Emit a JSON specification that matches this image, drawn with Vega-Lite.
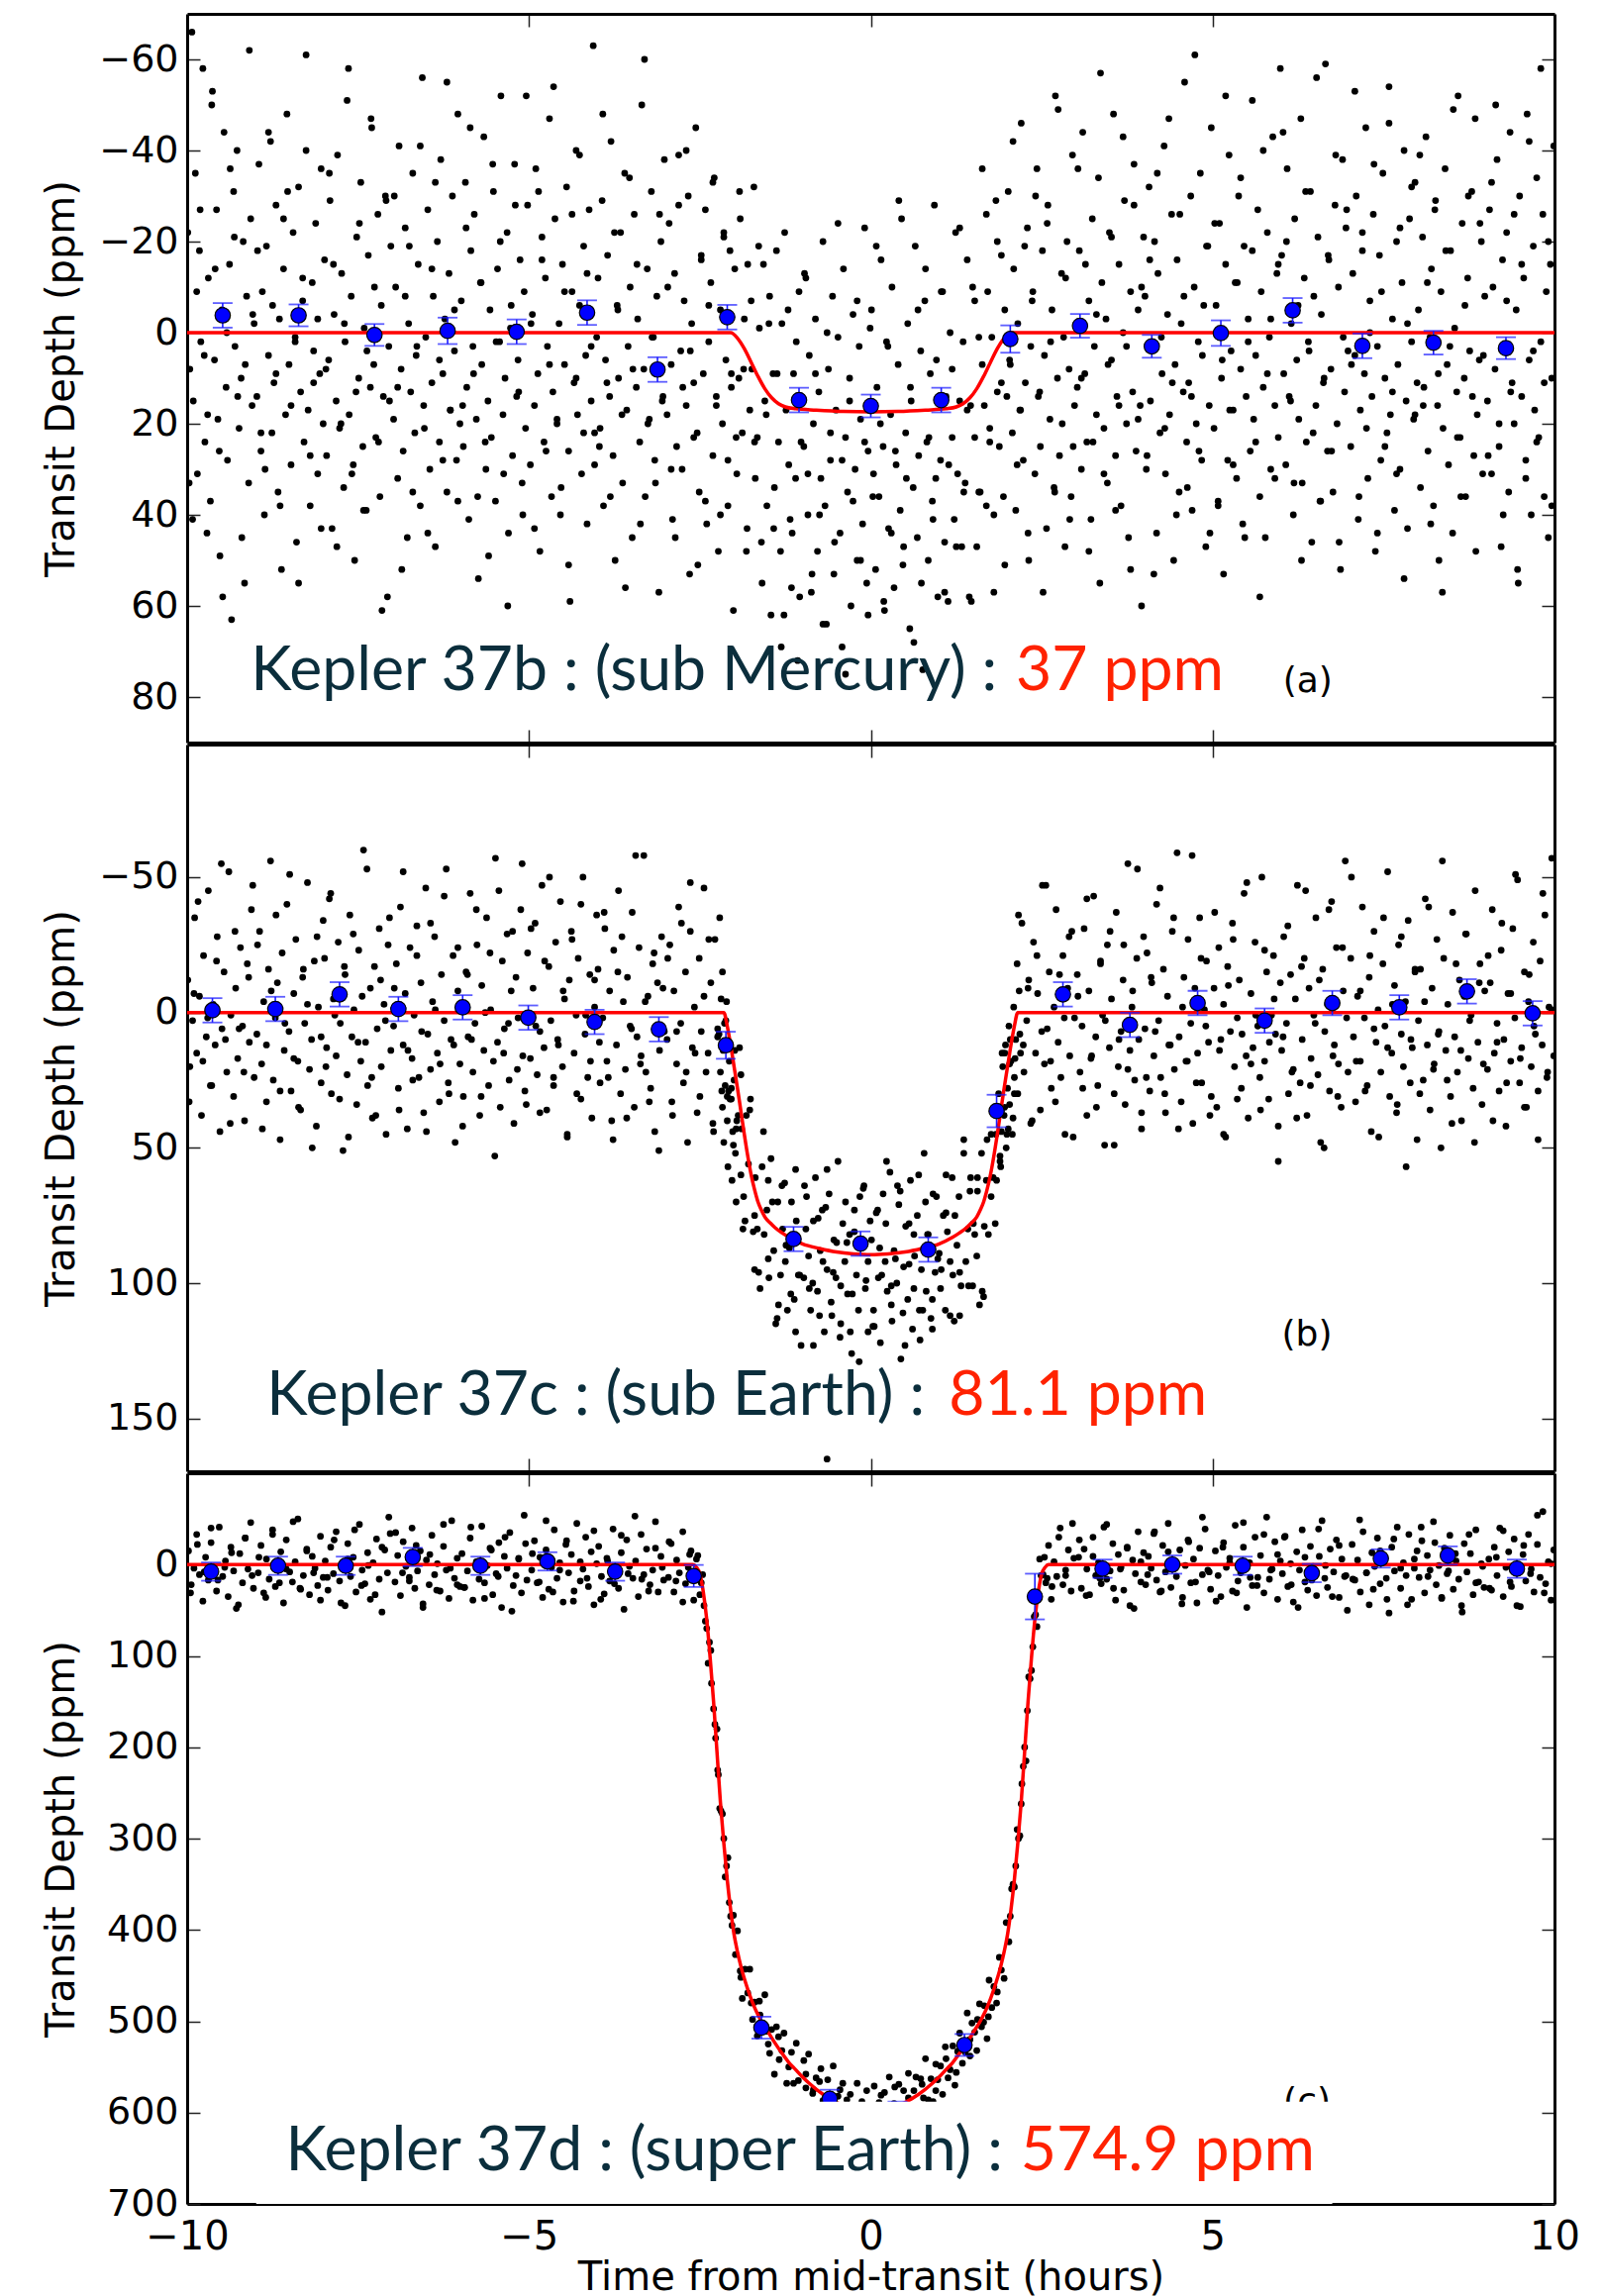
{
"$schema":"https://vega.github.io/schema/vega-lite/v6.json",
"background":"white",
"padding":{"left":42,"top":13,"right":0,"bottom":0},
"spacing":0,
"config":{
"view":{"stroke":null},
"axis":{"grid":false,"domainColor":"#000","domainWidth":3,"tickColor":"#222","tickWidth":1.5,"tickSize":-13,"labelFont":"DejaVu Sans","labelFontSize":38,"labelColor":"#000","labelPadding":22,"labelFlush":false,"titleFont":"DejaVu Sans","titleFontSize":40,"titleFontWeight":"normal","titleColor":"#000","zindex":1}
},
"datasets":{
"pa":[{"t":-9.99,"d":-22},{"t":-9.96,"d":8},{"t":-9.93,"d":-66},{"t":-9.91,"d":15},{"t":-9.88,"d":-35},{"t":-9.85,"d":31},{"t":-9.82,"d":-18},{"t":-9.8,"d":2},{"t":-9.77,"d":-58},{"t":-9.74,"d":24},{"t":-9.71,"d":44},{"t":-9.69,"d":-12},{"t":-9.66,"d":37},{"t":-9.63,"d":-53},{"t":-9.6,"d":6},{"t":-9.57,"d":-27},{"t":-9.55,"d":19},{"t":-9.52,"d":49},{"t":-9.49,"d":-5},{"t":-9.46,"d":-44},{"t":-9.43,"d":12},{"t":-9.41,"d":28},{"t":-9.38,"d":-15},{"t":-9.35,"d":63},{"t":-9.32,"d":-31},{"t":-9.3,"d":3},{"t":-9.27,"d":-40},{"t":-9.24,"d":21},{"t":-9.21,"d":10},{"t":-9.18,"d":-20},{"t":-9.16,"d":55},{"t":-9.13,"d":-8},{"t":-9.1,"d":33},{"t":-9.07,"d":-25},{"t":-9.05,"d":16},{"t":-9.02,"d":-2},
{"t":-8.98,"d":14},{"t":-8.95,"d":-37},{"t":-8.92,"d":26},{"t":-8.9,"d":-9},{"t":-8.87,"d":40},{"t":-8.84,"d":-19},{"t":-8.81,"d":5},{"t":-8.78,"d":-42},{"t":-8.76,"d":22},{"t":-8.73,"d":11},{"t":-8.7,"d":-28},{"t":-8.67,"d":35},{"t":-8.65,"d":-3},{"t":-8.62,"d":52},{"t":-8.59,"d":-14},{"t":-8.56,"d":18},{"t":-8.54,"d":-48},{"t":-8.51,"d":7},{"t":-8.48,"d":29},{"t":-8.45,"d":-22},{"t":-8.42,"d":1},{"t":-8.4,"d":46},{"t":-8.37,"d":-32},{"t":-8.34,"d":13},{"t":-8.31,"d":-7},{"t":-8.29,"d":24},{"t":-8.26,"d":-61},{"t":-8.23,"d":17},{"t":-8.2,"d":38},{"t":-8.17,"d":-11},{"t":-8.15,"d":4},{"t":-8.12,"d":-24},{"t":-8.09,"d":31},{"t":-8.06,"d":9},{"t":-8.04,"d":-36},{"t":-8.01,"d":20},
{"t":-7.99,"d":-16},{"t":-7.96,"d":27},{"t":-7.93,"d":6},{"t":-7.91,"d":-29},{"t":-7.88,"d":43},{"t":-7.85,"d":-4},{"t":-7.82,"d":15},{"t":-7.8,"d":-39},{"t":-7.77,"d":21},{"t":-7.74,"d":-13},{"t":-7.71,"d":34},{"t":-7.69,"d":2},{"t":-7.66,"d":-51},{"t":-7.63,"d":18},{"t":-7.6,"d":-8},{"t":-7.57,"d":29},{"t":-7.55,"d":50},{"t":-7.52,"d":-21},{"t":-7.49,"d":10},{"t":-7.46,"d":-33},{"t":-7.43,"d":25},{"t":-7.41,"d":-1},{"t":-7.38,"d":39},{"t":-7.35,"d":-17},{"t":-7.32,"d":12},{"t":-7.3,"d":-45},{"t":-7.27,"d":7},{"t":-7.24,"d":23},{"t":-7.21,"d":-26},{"t":-7.18,"d":36},{"t":-7.16,"d":-6},{"t":-7.13,"d":14},{"t":-7.1,"d":-30},{"t":-7.07,"d":58},{"t":-7.05,"d":3},{"t":-7.02,"d":-19},
{"t":-6.98,"d":19},{"t":-6.95,"d":-10},{"t":-6.92,"d":32},{"t":-6.9,"d":-41},{"t":-6.87,"d":8},{"t":-6.84,"d":26},{"t":-6.81,"d":-23},{"t":-6.78,"d":45},{"t":-6.76,"d":-2},{"t":-6.73,"d":13},{"t":-6.7,"d":-35},{"t":-6.67,"d":22},{"t":-6.65,"d":5},{"t":-6.62,"d":-15},{"t":-6.59,"d":38},{"t":-6.56,"d":-56},{"t":-6.54,"d":16},{"t":-6.51,"d":1},{"t":-6.48,"d":-27},{"t":-6.45,"d":30},{"t":-6.42,"d":11},{"t":-6.4,"d":-8},{"t":-6.37,"d":47},{"t":-6.34,"d":-20},{"t":-6.31,"d":24},{"t":-6.29,"d":-38},{"t":-6.26,"d":9},{"t":-6.23,"d":-3},{"t":-6.2,"d":35},{"t":-6.17,"d":-13},{"t":-6.15,"d":17},{"t":-6.12,"d":-30},{"t":-6.09,"d":4},{"t":-6.06,"d":28},{"t":-6.04,"d":-48},{"t":-6.01,"d":20},
{"t":-5.99,"d":-7},{"t":-5.96,"d":25},{"t":-5.93,"d":-33},{"t":-5.91,"d":12},{"t":-5.88,"d":41},{"t":-5.85,"d":-18},{"t":-5.82,"d":3},{"t":-5.8,"d":-26},{"t":-5.77,"d":19},{"t":-5.74,"d":54},{"t":-5.71,"d":-11},{"t":-5.69,"d":7},{"t":-5.66,"d":-43},{"t":-5.63,"d":30},{"t":-5.6,"d":15},{"t":-5.57,"d":-5},{"t":-5.55,"d":23},{"t":-5.52,"d":-31},{"t":-5.49,"d":37},{"t":-5.46,"d":-14},{"t":-5.43,"d":2},{"t":-5.41,"d":-52},{"t":-5.38,"d":18},{"t":-5.35,"d":10},{"t":-5.32,"d":-22},{"t":-5.3,"d":44},{"t":-5.27,"d":-1},{"t":-5.24,"d":27},{"t":-5.21,"d":-37},{"t":-5.18,"d":14},{"t":-5.16,"d":6},{"t":-5.13,"d":-16},{"t":-5.1,"d":33},{"t":-5.07,"d":-9},{"t":-5.05,"d":21},{"t":-5.02,"d":-28},
{"t":-4.98,"d":29},{"t":-4.95,"d":-4},{"t":-4.92,"d":16},{"t":-4.9,"d":-36},{"t":-4.87,"d":9},{"t":-4.84,"d":48},{"t":-4.81,"d":-21},{"t":-4.78,"d":24},{"t":-4.76,"d":-12},{"t":-4.73,"d":3},{"t":-4.7,"d":-47},{"t":-4.67,"d":36},{"t":-4.65,"d":13},{"t":-4.62,"d":-25},{"t":-4.59,"d":20},{"t":-4.56,"d":-2},{"t":-4.54,"d":40},{"t":-4.51,"d":-15},{"t":-4.48,"d":7},{"t":-4.45,"d":-32},{"t":-4.42,"d":26},{"t":-4.4,"d":59},{"t":-4.37,"d":-9},{"t":-4.34,"d":11},{"t":-4.31,"d":-40},{"t":-4.29,"d":18},{"t":-4.26,"d":-6},{"t":-4.23,"d":31},{"t":-4.2,"d":-19},{"t":-4.17,"d":5},{"t":-4.15,"d":42},{"t":-4.12,"d":-27},{"t":-4.09,"d":15},{"t":-4.06,"d":-63},{"t":-4.04,"d":22},{"t":-4.01,"d":1},
{"t":-3.99,"d":-12},{"t":-3.96,"d":21},{"t":-3.93,"d":-29},{"t":-3.91,"d":38},{"t":-3.88,"d":6},{"t":-3.85,"d":-17},{"t":-3.82,"d":14},{"t":-3.8,"d":-42},{"t":-3.77,"d":27},{"t":-3.74,"d":50},{"t":-3.71,"d":-6},{"t":-3.69,"d":10},{"t":-3.66,"d":-22},{"t":-3.63,"d":33},{"t":-3.6,"d":-35},{"t":-3.57,"d":17},{"t":-3.55,"d":3},{"t":-3.52,"d":-10},{"t":-3.49,"d":45},{"t":-3.46,"d":-26},{"t":-3.43,"d":12},{"t":-3.41,"d":-3},{"t":-3.38,"d":24},{"t":-3.35,"d":-50},{"t":-3.32,"d":8},{"t":-3.3,"d":36},{"t":-3.27,"d":-14},{"t":-3.24,"d":19},{"t":-3.21,"d":-31},{"t":-3.18,"d":1},{"t":-3.16,"d":28},{"t":-3.13,"d":-8},{"t":-3.1,"d":57},{"t":-3.07,"d":-20},{"t":-3.05,"d":15},{"t":-3.02,"d":-38},
{"t":-2.98,"d":18},{"t":-2.95,"d":-24},{"t":-2.92,"d":7},{"t":-2.9,"d":41},{"t":-2.87,"d":-13},{"t":-2.84,"d":25},{"t":-2.81,"d":-39},{"t":-2.78,"d":4},{"t":-2.76,"d":30},{"t":-2.73,"d":-7},{"t":-2.7,"d":16},{"t":-2.67,"d":-30},{"t":-2.65,"d":53},{"t":-2.62,"d":-2},{"t":-2.59,"d":11},{"t":-2.56,"d":-45},{"t":-2.54,"d":22},{"t":-2.51,"d":35},{"t":-2.48,"d":-16},{"t":-2.45,"d":9},{"t":-2.42,"d":-27},{"t":-2.4,"d":42},{"t":-2.37,"d":2},{"t":-2.34,"d":-11},{"t":-2.31,"d":27},{"t":-2.29,"d":-34},{"t":-2.26,"d":14},{"t":-2.23,"d":48},{"t":-2.2,"d":-5},{"t":-2.17,"d":20},{"t":-2.15,"d":-22},{"t":-2.12,"d":6},{"t":-2.09,"d":38},{"t":-2.06,"d":-18},{"t":-2.04,"d":12},{"t":-2.01,"d":61},
{"t":-1.99,"d":-14},{"t":-1.96,"d":31},{"t":-1.93,"d":10},{"t":-1.91,"d":-25},{"t":-1.88,"d":22},{"t":-1.85,"d":-3},{"t":-1.82,"d":48},{"t":-1.8,"d":-15},{"t":-1.77,"d":17},{"t":-1.74,"d":8},{"t":-1.71,"d":-32},{"t":-1.69,"d":32},{"t":-1.66,"d":23},{"t":-1.63,"d":-1},{"t":-1.6,"d":46},{"t":-1.57,"d":-15},{"t":-1.55,"d":15},{"t":-1.52,"d":38},{"t":-1.49,"d":-2},{"t":-1.46,"d":62},{"t":-1.43,"d":9},{"t":-1.41,"d":34},{"t":-1.38,"d":-18},{"t":-1.35,"d":24},{"t":-1.32,"d":48},{"t":-1.3,"d":-2},{"t":-1.27,"d":62},{"t":-1.24,"d":17},{"t":-1.21,"d":-5},{"t":-1.18,"d":41},{"t":-1.16,"d":56},{"t":-1.13,"d":9},{"t":-1.1,"d":32},{"t":-1.07,"d":72},{"t":-1.05,"d":-9},{"t":-1.02,"d":24},
{"t":-0.98,"d":25},{"t":-0.95,"d":-12},{"t":-0.92,"d":40},{"t":-0.9,"d":5},{"t":-0.87,"d":57},{"t":-0.84,"d":20},{"t":-0.81,"d":-3},{"t":-0.78,"d":48},{"t":-0.76,"d":13},{"t":-0.73,"d":32},{"t":-0.7,"d":-20},{"t":-0.67,"d":38},{"t":-0.65,"d":64},{"t":-0.62,"d":8},{"t":-0.59,"d":28},{"t":-0.56,"d":-8},{"t":-0.54,"d":53},{"t":-0.51,"d":17},{"t":-0.48,"d":1},{"t":-0.45,"d":44},{"t":-0.42,"d":69},{"t":-0.4,"d":-14},{"t":-0.37,"d":23},{"t":-0.34,"d":35},{"t":-0.31,"d":10},{"t":-0.29,"d":60},{"t":-0.26,"d":-4},{"t":-0.23,"d":30},{"t":-0.2,"d":50},{"t":-0.17,"d":3},{"t":-0.15,"d":19},{"t":-0.12,"d":42},{"t":-0.09,"d":-23},{"t":-0.06,"d":55},{"t":-0.04,"d":26},{"t":-0.01,"d":-1},
{"t":0.01,"d":-5},{"t":0.04,"d":31},{"t":0.07,"d":52},{"t":0.09,"d":12},{"t":0.12,"d":36},{"t":0.15,"d":-16},{"t":0.18,"d":25},{"t":0.2,"d":61},{"t":0.23,"d":2},{"t":0.26,"d":43},{"t":0.29,"d":18},{"t":0.31,"d":-10},{"t":0.34,"d":56},{"t":0.37,"d":29},{"t":0.4,"d":7},{"t":0.43,"d":39},{"t":0.45,"d":-25},{"t":0.48,"d":47},{"t":0.51,"d":22},{"t":0.54,"d":-2},{"t":0.57,"d":65},{"t":0.59,"d":15},{"t":0.62,"d":34},{"t":0.65,"d":-19},{"t":0.68,"d":45},{"t":0.7,"d":27},{"t":0.73,"d":4},{"t":0.76,"d":74},{"t":0.79,"d":-7},{"t":0.82,"d":24},{"t":0.84,"d":50},{"t":0.87,"d":9},{"t":0.9,"d":37},{"t":0.93,"d":-28},{"t":0.95,"d":32},{"t":0.98,"d":58},
{"t":1.02,"d":28},{"t":1.05,"d":-9},{"t":1.08,"d":46},{"t":1.1,"d":14},{"t":1.13,"d":59},{"t":1.16,"d":0},{"t":1.19,"d":23},{"t":1.22,"d":41},{"t":1.24,"d":-22},{"t":1.27,"d":31},{"t":1.3,"d":15},{"t":1.33,"d":47},{"t":1.35,"d":2},{"t":1.38,"d":33},{"t":1.41,"d":-16},{"t":1.44,"d":58},{"t":1.46,"d":16},{"t":1.49,"d":-10},{"t":1.52,"d":23},{"t":1.55,"d":47},{"t":1.58,"d":1},{"t":1.6,"d":35},{"t":1.63,"d":-36},{"t":1.66,"d":16},{"t":1.69,"d":38},{"t":1.71,"d":-9},{"t":1.74,"d":24},{"t":1.77,"d":1},{"t":1.8,"d":57},{"t":1.83,"d":-29},{"t":1.85,"d":13},{"t":1.88,"d":25},{"t":1.91,"d":-17},{"t":1.94,"d":36},{"t":1.96,"d":-5},{"t":1.99,"d":14},
{"t":2.01,"d":-31},{"t":2.04,"d":7},{"t":2.07,"d":22},{"t":2.09,"d":-14},{"t":2.12,"d":39},{"t":2.15,"d":-2},{"t":2.18,"d":17},{"t":2.2,"d":-46},{"t":2.23,"d":28},{"t":2.26,"d":11},{"t":2.29,"d":-23},{"t":2.31,"d":50},{"t":2.34,"d":3},{"t":2.37,"d":-9},{"t":2.4,"d":31},{"t":2.43,"d":-36},{"t":2.45,"d":14},{"t":2.48,"d":25},{"t":2.51,"d":-18},{"t":2.54,"d":5},{"t":2.57,"d":43},{"t":2.59,"d":-28},{"t":2.62,"d":19},{"t":2.65,"d":-5},{"t":2.68,"d":34},{"t":2.7,"d":-52},{"t":2.73,"d":10},{"t":2.76,"d":27},{"t":2.79,"d":-13},{"t":2.82,"d":1},{"t":2.84,"d":47},{"t":2.87,"d":-20},{"t":2.9,"d":8},{"t":2.93,"d":36},{"t":2.95,"d":-39},{"t":2.98,"d":16},
{"t":3.02,"d":12},{"t":3.05,"d":-18},{"t":3.08,"d":30},{"t":3.1,"d":-44},{"t":3.13,"d":9},{"t":3.16,"d":24},{"t":3.19,"d":-7},{"t":3.22,"d":41},{"t":3.24,"d":-25},{"t":3.27,"d":3},{"t":3.3,"d":18},{"t":3.33,"d":-34},{"t":3.35,"d":55},{"t":3.38,"d":-11},{"t":3.41,"d":21},{"t":3.44,"d":-3},{"t":3.46,"d":33},{"t":3.49,"d":-22},{"t":3.52,"d":6},{"t":3.55,"d":-48},{"t":3.58,"d":27},{"t":3.6,"d":14},{"t":3.63,"d":-15},{"t":3.66,"d":38},{"t":3.69,"d":0},{"t":3.71,"d":-29},{"t":3.74,"d":20},{"t":3.77,"d":45},{"t":3.8,"d":-9},{"t":3.83,"d":13},{"t":3.85,"d":-37},{"t":3.88,"d":26},{"t":3.91,"d":-5},{"t":3.94,"d":16},{"t":3.96,"d":60},{"t":3.99,"d":-21},
{"t":4.01,"d":-8},{"t":4.04,"d":27},{"t":4.07,"d":-32},{"t":4.09,"d":15},{"t":4.12,"d":3},{"t":4.15,"d":-20},{"t":4.18,"d":44},{"t":4.2,"d":-13},{"t":4.23,"d":22},{"t":4.26,"d":9},{"t":4.29,"d":-41},{"t":4.31,"d":31},{"t":4.34,"d":-4},{"t":4.37,"d":18},{"t":4.4,"d":-26},{"t":4.43,"d":50},{"t":4.45,"d":7},{"t":4.48,"d":-16},{"t":4.51,"d":35},{"t":4.54,"d":-2},{"t":4.57,"d":13},{"t":4.59,"d":-55},{"t":4.62,"d":24},{"t":4.65,"d":11},{"t":4.68,"d":-30},{"t":4.7,"d":39},{"t":4.73,"d":-10},{"t":4.76,"d":20},{"t":4.79,"d":2},{"t":4.82,"d":-35},{"t":4.84,"d":28},{"t":4.87,"d":-6},{"t":4.9,"d":47},{"t":4.93,"d":-19},{"t":4.95,"d":16},{"t":4.98,"d":-45},
{"t":5.02,"d":21},{"t":5.05,"d":-6},{"t":5.08,"d":37},{"t":5.1,"d":-24},{"t":5.13,"d":10},{"t":5.16,"d":53},{"t":5.19,"d":-15},{"t":5.22,"d":28},{"t":5.24,"d":-39},{"t":5.27,"d":4},{"t":5.3,"d":17},{"t":5.33,"d":-11},{"t":5.35,"d":32},{"t":5.38,"d":-30},{"t":5.41,"d":8},{"t":5.44,"d":42},{"t":5.46,"d":-19},{"t":5.49,"d":14},{"t":5.52,"d":-3},{"t":5.55,"d":26},{"t":5.58,"d":-51},{"t":5.6,"d":19},{"t":5.63,"d":5},{"t":5.66,"d":-27},{"t":5.69,"d":36},{"t":5.71,"d":-9},{"t":5.74,"d":12},{"t":5.77,"d":45},{"t":5.8,"d":-22},{"t":5.83,"d":1},{"t":5.85,"d":30},{"t":5.88,"d":-43},{"t":5.91,"d":16},{"t":5.94,"d":-13},{"t":5.96,"d":23},{"t":5.99,"d":-58},
{"t":6.01,"d":-17},{"t":6.04,"d":9},{"t":6.07,"d":29},{"t":6.09,"d":-36},{"t":6.12,"d":14},{"t":6.15,"d":-2},{"t":6.18,"d":40},{"t":6.2,"d":-25},{"t":6.23,"d":6},{"t":6.26,"d":19},{"t":6.29,"d":-47},{"t":6.31,"d":33},{"t":6.34,"d":-12},{"t":6.37,"d":24},{"t":6.4,"d":2},{"t":6.43,"d":-31},{"t":6.45,"d":46},{"t":6.48,"d":-8},{"t":6.51,"d":16},{"t":6.54,"d":-21},{"t":6.57,"d":37},{"t":6.59,"d":-4},{"t":6.62,"d":11},{"t":6.65,"d":-59},{"t":6.68,"d":26},{"t":6.7,"d":-16},{"t":6.73,"d":8},{"t":6.76,"d":35},{"t":6.79,"d":-28},{"t":6.82,"d":20},{"t":6.84,"d":-10},{"t":6.87,"d":52},{"t":6.9,"d":-38},{"t":6.93,"d":13},{"t":6.95,"d":-23},{"t":6.98,"d":4},
{"t":7.02,"d":25},{"t":7.05,"d":-13},{"t":7.08,"d":5},{"t":7.1,"d":-30},{"t":7.13,"d":41},{"t":7.16,"d":17},{"t":7.19,"d":-22},{"t":7.22,"d":9},{"t":7.24,"d":-45},{"t":7.27,"d":32},{"t":7.3,"d":-7},{"t":7.33,"d":14},{"t":7.35,"d":-26},{"t":7.38,"d":48},{"t":7.41,"d":3},{"t":7.44,"d":-17},{"t":7.46,"d":28},{"t":7.49,"d":-35},{"t":7.52,"d":10},{"t":7.55,"d":22},{"t":7.58,"d":-54},{"t":7.6,"d":18},{"t":7.63,"d":-3},{"t":7.66,"d":39},{"t":7.69,"d":-20},{"t":7.71,"d":7},{"t":7.74,"d":30},{"t":7.77,"d":-11},{"t":7.8,"d":-40},{"t":7.83,"d":15},{"t":7.85,"d":43},{"t":7.88,"d":-25},{"t":7.91,"d":2},{"t":7.94,"d":19},{"t":7.96,"d":-33},{"t":7.99,"d":11},
{"t":8.01,"d":-5},{"t":8.04,"d":34},{"t":8.07,"d":-21},{"t":8.09,"d":12},{"t":8.12,"d":-43},{"t":8.15,"d":26},{"t":8.18,"d":1},{"t":8.2,"d":-14},{"t":8.23,"d":38},{"t":8.26,"d":-29},{"t":8.29,"d":16},{"t":8.31,"d":50},{"t":8.34,"d":-9},{"t":8.37,"d":21},{"t":8.4,"d":-36},{"t":8.43,"d":7},{"t":8.45,"d":29},{"t":8.48,"d":-18},{"t":8.51,"d":44},{"t":8.54,"d":-1},{"t":8.57,"d":13},{"t":8.59,"d":-52},{"t":8.62,"d":23},{"t":8.65,"d":-24},{"t":8.68,"d":10},{"t":8.7,"d":36},{"t":8.73,"d":-12},{"t":8.76,"d":4},{"t":8.79,"d":-31},{"t":8.82,"d":27},{"t":8.84,"d":-47},{"t":8.87,"d":18},{"t":8.9,"d":6},{"t":8.93,"d":-20},{"t":8.95,"d":31},{"t":8.98,"d":-8},
{"t":9.02,"d":15},{"t":9.05,"d":-27},{"t":9.08,"d":31},{"t":9.1,"d":-10},{"t":9.13,"d":8},{"t":9.16,"d":-38},{"t":9.19,"d":25},{"t":9.22,"d":47},{"t":9.24,"d":-16},{"t":9.27,"d":3},{"t":9.3,"d":-22},{"t":9.33,"d":35},{"t":9.35,"d":-44},{"t":9.38,"d":11},{"t":9.41,"d":20},{"t":9.44,"d":-5},{"t":9.46,"d":52},{"t":9.49,"d":-30},{"t":9.52,"d":14},{"t":9.55,"d":-12},{"t":9.58,"d":28},{"t":9.6,"d":-48},{"t":9.63,"d":6},{"t":9.66,"d":40},{"t":9.69,"d":-19},{"t":9.71,"d":17},{"t":9.74,"d":-34},{"t":9.77,"d":23},{"t":9.8,"d":2},{"t":9.83,"d":-26},{"t":9.85,"d":36},{"t":9.88,"d":-9},{"t":9.91,"d":45},{"t":9.94,"d":-15},{"t":9.96,"d":10},{"t":9.99,"d":-41},
{"t":-9.97,"d":33},{"t":-9.92,"d":41},{"t":-9.86,"d":-9},{"t":-9.81,"d":-27},{"t":-9.75,"d":5},{"t":-9.7,"d":18},{"t":-9.64,"d":-50},{"t":-9.59,"d":-14},{"t":-9.53,"d":26},{"t":-9.48,"d":58},{"t":-9.42,"d":0},{"t":-9.37,"d":-36},{"t":-9.31,"d":-21},{"t":-9.26,"d":14},{"t":-9.2,"d":45},{"t":-9.15,"d":7},{"t":-9.09,"d":-62},{"t":-9.04,"d":-4},
{"t":-8.97,"d":-18},{"t":-8.92,"d":22},{"t":-8.86,"d":30},{"t":-8.81,"d":-44},{"t":-8.75,"d":-6},{"t":-8.7,"d":9},{"t":-8.64,"d":38},{"t":-8.59,"d":-25},{"t":-8.53,"d":-31},{"t":-8.48,"d":16},{"t":-8.42,"d":2},{"t":-8.37,"d":55},{"t":-8.31,"d":-12},{"t":-8.26,"d":-40},{"t":-8.2,"d":27},{"t":-8.15,"d":11},{"t":-8.09,"d":-3},{"t":-8.04,"d":43},
{"t":-7.97,"d":8},{"t":-7.92,"d":-35},{"t":-7.86,"d":-15},{"t":-7.81,"d":47},{"t":-7.75,"d":20},{"t":-7.7,"d":-2},{"t":-7.64,"d":-58},{"t":-7.59,"d":31},{"t":-7.53,"d":13},{"t":-7.48,"d":-24},{"t":-7.42,"d":39},{"t":-7.37,"d":4},{"t":-7.31,"d":-47},{"t":-7.26,"d":-10},{"t":-7.2,"d":24},{"t":-7.15,"d":61},{"t":-7.09,"d":-29},{"t":-7.04,"d":15},
{"t":-6.97,"d":-30},{"t":-6.92,"d":12},{"t":-6.86,"d":52},{"t":-6.81,"d":-8},{"t":-6.75,"d":-19},{"t":-6.7,"d":35},{"t":-6.64,"d":3},{"t":-6.59,"d":-41},{"t":-6.53,"d":21},{"t":-6.48,"d":44},{"t":-6.42,"d":-14},{"t":-6.37,"d":-33},{"t":-6.31,"d":6},{"t":-6.26,"d":28},{"t":-6.2,"d":-55},{"t":-6.15,"d":17},{"t":-6.09,"d":-5},{"t":-6.04,"d":37},
{"t":-5.97,"d":16},{"t":-5.92,"d":-23},{"t":-5.86,"d":-45},{"t":-5.81,"d":9},{"t":-5.75,"d":36},{"t":-5.7,"d":-11},{"t":-5.64,"d":24},{"t":-5.59,"d":49},{"t":-5.53,"d":-37},{"t":-5.48,"d":2},{"t":-5.42,"d":-20},{"t":-5.37,"d":31},{"t":-5.31,"d":60},{"t":-5.26,"d":-6},{"t":-5.2,"d":-28},{"t":-5.15,"d":13},{"t":-5.09,"d":40},{"t":-5.04,"d":-52},
{"t":-4.97,"d":-2},{"t":-4.92,"d":43},{"t":-4.86,"d":-31},{"t":-4.81,"d":-16},{"t":-4.75,"d":26},{"t":-4.7,"d":7},{"t":-4.64,"d":-54},{"t":-4.59,"d":19},{"t":-4.53,"d":34},{"t":-4.48,"d":-9},{"t":-4.42,"d":51},{"t":-4.37,"d":-26},{"t":-4.31,"d":10},{"t":-4.26,"d":-39},{"t":-4.2,"d":22},{"t":-4.15,"d":-13},{"t":-4.09,"d":3},{"t":-4.04,"d":29},
{"t":-3.97,"d":25},{"t":-3.92,"d":-48},{"t":-3.86,"d":11},{"t":-3.81,"d":36},{"t":-3.75,"d":-22},{"t":-3.7,"d":-5},{"t":-3.64,"d":18},{"t":-3.59,"d":56},{"t":-3.53,"d":-34},{"t":-3.48,"d":8},{"t":-3.42,"d":-15},{"t":-3.37,"d":42},{"t":-3.31,"d":-60},{"t":-3.26,"d":20},{"t":-3.2,"d":1},{"t":-3.15,"d":33},{"t":-3.09,"d":-26},{"t":-3.04,"d":14},
{"t":-2.97,"d":-10},{"t":-2.92,"d":30},{"t":-2.86,"d":45},{"t":-2.81,"d":-28},{"t":-2.75,"d":12},{"t":-2.7,"d":-40},{"t":-2.64,"d":4},{"t":-2.59,"d":23},{"t":-2.53,"d":51},{"t":-2.48,"d":-17},{"t":-2.42,"d":37},{"t":-2.37,"d":-6},{"t":-2.31,"d":-33},{"t":-2.26,"d":16},{"t":-2.2,"d":40},{"t":-2.15,"d":-21},{"t":-2.09,"d":28},{"t":-2.04,"d":9},
{"t":-1.97,"d":23},{"t":-1.92,"d":-31},{"t":-1.86,"d":8},{"t":-1.81,"d":43},{"t":-1.75,"d":-7},{"t":-1.7,"d":24},{"t":-1.64,"d":-19},{"t":-1.59,"d":55},{"t":-1.53,"d":18},{"t":-1.48,"d":-8},{"t":-1.42,"d":43},{"t":-1.37,"d":9},{"t":-1.31,"d":69},{"t":-1.26,"d":-22},{"t":-1.2,"d":29},{"t":-1.15,"d":44},{"t":-1.09,"d":2},{"t":-1.04,"d":58},
{"t":-0.97,"d":-13},{"t":-0.92,"d":31},{"t":-0.86,"d":53},{"t":-0.81,"d":9},{"t":-0.75,"d":40},{"t":-0.7,"d":64},{"t":-0.64,"d":0},{"t":-0.59,"d":22},{"t":-0.53,"d":46},{"t":-0.48,"d":-24},{"t":-0.42,"d":28},{"t":-0.37,"d":75},{"t":-0.31,"d":15},{"t":-0.26,"d":37},{"t":-0.2,"d":-7},{"t":-0.15,"d":50},{"t":-0.09,"d":24},{"t":-0.04,"d":62},
{"t":0.03,"d":36},{"t":0.08,"d":-19},{"t":0.14,"d":20},{"t":0.19,"d":59},{"t":0.25,"d":3},{"t":0.3,"d":44},{"t":0.36,"d":26},{"t":0.41,"d":-29},{"t":0.47,"d":51},{"t":0.52,"d":32},{"t":0.58,"d":12},{"t":0.63,"d":68},{"t":0.69,"d":-5},{"t":0.74,"d":55},{"t":0.8,"d":-14},{"t":0.85,"d":23},{"t":0.91,"d":41},{"t":0.96,"d":6},
{"t":1.03,"d":-9},{"t":1.08,"d":57},{"t":1.14,"d":29},{"t":1.19,"d":8},{"t":1.25,"d":47},{"t":1.3,"d":-23},{"t":1.36,"d":35},{"t":1.41,"d":17},{"t":1.47,"d":59},{"t":1.52,"d":-7},{"t":1.58,"d":35},{"t":1.63,"d":7},{"t":1.69,"d":-26},{"t":1.74,"d":21},{"t":1.8,"d":40},{"t":1.85,"d":-20},{"t":1.91,"d":11},{"t":1.96,"d":51},
{"t":2.03,"d":6},{"t":2.08,"d":-42},{"t":2.14,"d":29},{"t":2.19,"d":17},{"t":2.25,"d":-19},{"t":2.3,"d":44},{"t":2.36,"d":-7},{"t":2.41,"d":-30},{"t":2.47,"d":13},{"t":2.52,"d":57},{"t":2.58,"d":-24},{"t":2.63,"d":2},{"t":2.69,"d":35},{"t":2.74,"d":-49},{"t":2.8,"d":20},{"t":2.85,"d":-12},{"t":2.91,"d":41},{"t":2.96,"d":25},
{"t":3.03,"d":-36},{"t":3.08,"d":10},{"t":3.14,"d":-15},{"t":3.19,"d":48},{"t":3.25,"d":24},{"t":3.3,"d":-4},{"t":3.36,"d":-57},{"t":3.41,"d":31},{"t":3.47,"d":7},{"t":3.52,"d":-21},{"t":3.58,"d":39},{"t":3.63,"d":16},{"t":3.69,"d":-43},{"t":3.74,"d":3},{"t":3.8,"d":52},{"t":3.85,"d":-28},{"t":3.91,"d":19},{"t":3.96,"d":-10},
{"t":4.03,"d":30},{"t":4.08,"d":-16},{"t":4.14,"d":53},{"t":4.19,"d":-35},{"t":4.25,"d":1},{"t":4.3,"d":21},{"t":4.36,"d":-47},{"t":4.41,"d":11},{"t":4.47,"d":40},{"t":4.52,"d":-26},{"t":4.58,"d":-8},{"t":4.63,"d":34},{"t":4.69,"d":14},{"t":4.74,"d":-61},{"t":4.8,"d":26},{"t":4.85,"d":5},{"t":4.91,"d":-19},{"t":4.96,"d":44},
{"t":5.03,"d":-24},{"t":5.08,"d":38},{"t":5.14,"d":6},{"t":5.19,"d":-52},{"t":5.25,"d":17},{"t":5.3,"d":29},{"t":5.36,"d":-11},{"t":5.41,"d":-34},{"t":5.47,"d":45},{"t":5.52,"d":2},{"t":5.58,"d":-18},{"t":5.63,"d":24},{"t":5.69,"d":58},{"t":5.74,"d":-40},{"t":5.8,"d":9},{"t":5.85,"d":-3},{"t":5.91,"d":32},{"t":5.96,"d":-15},
{"t":6.03,"d":-44},{"t":6.08,"d":-20},{"t":6.14,"d":15},{"t":6.19,"d":33},{"t":6.25,"d":-6},{"t":6.3,"d":50},{"t":6.36,"d":-31},{"t":6.41,"d":4},{"t":6.47,"d":22},{"t":6.52,"d":-56},{"t":6.58,"d":37},{"t":6.63,"d":10},{"t":6.69,"d":-17},{"t":6.74,"d":26},{"t":6.8,"d":-39},{"t":6.85,"d":46},{"t":6.91,"d":1},{"t":6.96,"d":-27},
{"t":7.03,"d":7},{"t":7.08,"d":-53},{"t":7.14,"d":36},{"t":7.19,"d":-18},{"t":7.25,"d":21},{"t":7.3,"d":0},{"t":7.36,"d":-37},{"t":7.41,"d":44},{"t":7.47,"d":-9},{"t":7.52,"d":25},{"t":7.58,"d":-46},{"t":7.63,"d":13},{"t":7.69,"d":31},{"t":7.74,"d":-23},{"t":7.8,"d":54},{"t":7.85,"d":-2},{"t":7.91,"d":-32},{"t":7.96,"d":18},
{"t":8.03,"d":-39},{"t":8.08,"d":16},{"t":8.14,"d":-11},{"t":8.19,"d":42},{"t":8.25,"d":-27},{"t":8.3,"d":9},{"t":8.36,"d":57},{"t":8.41,"d":-18},{"t":8.47,"d":3},{"t":8.52,"d":-49},{"t":8.58,"d":23},{"t":8.63,"d":36},{"t":8.69,"d":-6},{"t":8.74,"d":-30},{"t":8.8,"d":14},{"t":8.85,"d":48},{"t":8.91,"d":-24},{"t":8.96,"d":5},
{"t":9.03,"d":27},{"t":9.08,"d":-33},{"t":9.14,"d":-50},{"t":9.19,"d":20},{"t":9.25,"d":40},{"t":9.3,"d":-7},{"t":9.36,"d":13},{"t":9.41,"d":-26},{"t":9.47,"d":55},{"t":9.52,"d":-15},{"t":9.58,"d":32},{"t":9.63,"d":-42},{"t":9.69,"d":4},{"t":9.74,"d":24},{"t":9.8,"d":-58},{"t":9.85,"d":11},{"t":9.91,"d":-20},{"t":9.96,"d":38}],
"ma":[{"t":-10,"d":0},{"t":-2.05,"d":0},{"t":-1.95,"d":1.2},{"t":-1.85,"d":3.5},{"t":-1.75,"d":6.5},{"t":-1.65,"d":9.6},{"t":-1.55,"d":12.3},{"t":-1.45,"d":14.3},{"t":-1.35,"d":15.6},{"t":-1.25,"d":16.3},{"t":-1.1,"d":16.7},{"t":-0.8,"d":17},{"t":-0.4,"d":17.3},{"t":0,"d":17.4},{"t":0.4,"d":17.3},{"t":0.8,"d":17},{"t":1.1,"d":16.7},{"t":1.25,"d":16.3},{"t":1.35,"d":15.6},{"t":1.45,"d":14.3},{"t":1.55,"d":12.3},{"t":1.65,"d":9.6},{"t":1.75,"d":6.5},{"t":1.85,"d":3.5},{"t":1.95,"d":1.2},{"t":2.05,"d":0},{"t":10,"d":0}],
"ba":[{"t":-9.48,"d":-3.8,"e":2.7},{"t":-8.37,"d":-3.8,"e":2.4},{"t":-7.26,"d":0.5,"e":2.4},{"t":-6.19,"d":-0.4,"e":2.9},{"t":-5.18,"d":-0.2,"e":2.7},{"t":-4.15,"d":-4.4,"e":2.7},{"t":-3.12,"d":8.1,"e":2.7},{"t":-2.1,"d":-3.4,"e":2.7},{"t":-1.05,"d":14.8,"e":2.7},{"t":0,"d":16.1,"e":2.5},{"t":1.03,"d":14.8,"e":2.7},{"t":2.04,"d":1.4,"e":3},{"t":3.06,"d":-1.5,"e":2.6},{"t":4.11,"d":3,"e":2.5},{"t":5.12,"d":0.1,"e":2.8},{"t":6.17,"d":-4.9,"e":2.7},{"t":7.19,"d":2.9,"e":2.7},{"t":8.23,"d":2.2,"e":2.6},{"t":9.29,"d":3.4,"e":2.4}],
"pb":[{"t":-9.99,"d":-12},{"t":-9.96,"d":20},{"t":-9.92,"d":3},{"t":-9.89,"d":-35},{"t":-9.86,"d":15},{"t":-9.82,"d":-6},{"t":-9.79,"d":38},{"t":-9.76,"d":-21},{"t":-9.72,"d":9},{"t":-9.69,"d":-45},{"t":-9.66,"d":27},{"t":-9.62,"d":-3},{"t":-9.59,"d":12},{"t":-9.56,"d":-28},{"t":-9.52,"d":44},{"t":-9.49,"d":6},{"t":-9.46,"d":-15},{"t":-9.42,"d":22},{"t":-9.39,"d":-52},{"t":-9.36,"d":1},{"t":-9.32,"d":31},{"t":-9.29,"d":-9},{"t":-9.26,"d":17},{"t":-9.22,"d":-24},{"t":-9.19,"d":5},{"t":-9.16,"d":40},{"t":-9.12,"d":-18},{"t":-9.09,"d":11},{"t":-9.06,"d":-38},{"t":-9.02,"d":24},
{"t":-8.98,"d":8},{"t":-8.94,"d":-30},{"t":-8.91,"d":19},{"t":-8.88,"d":-4},{"t":-8.84,"d":33},{"t":-8.81,"d":-16},{"t":-8.78,"d":-56},{"t":-8.74,"d":25},{"t":-8.71,"d":2},{"t":-8.68,"d":-11},{"t":-8.64,"d":47},{"t":-8.61,"d":-22},{"t":-8.58,"d":14},{"t":-8.54,"d":-40},{"t":-8.51,"d":7},{"t":-8.48,"d":29},{"t":-8.44,"d":-7},{"t":-8.41,"d":-27},{"t":-8.38,"d":18},{"t":-8.34,"d":36},{"t":-8.31,"d":-13},{"t":-8.28,"d":4},{"t":-8.24,"d":-48},{"t":-8.21,"d":21},{"t":-8.18,"d":10},{"t":-8.14,"d":-19},{"t":-8.11,"d":42},{"t":-8.08,"d":-2},{"t":-8.04,"d":26},{"t":-8.01,"d":-34},
{"t":-7.99,"d":-20},{"t":-7.96,"d":13},{"t":-7.92,"d":-42},{"t":-7.89,"d":30},{"t":-7.86,"d":-5},{"t":-7.82,"d":16},{"t":-7.79,"d":-26},{"t":-7.76,"d":4},{"t":-7.72,"d":51},{"t":-7.69,"d":-14},{"t":-7.66,"d":23},{"t":-7.62,"d":-36},{"t":-7.59,"d":9},{"t":-7.56,"d":-1},{"t":-7.52,"d":34},{"t":-7.49,"d":-23},{"t":-7.46,"d":18},{"t":-7.42,"d":-60},{"t":-7.39,"d":11},{"t":-7.36,"d":27},{"t":-7.32,"d":-9},{"t":-7.29,"d":39},{"t":-7.26,"d":-17},{"t":-7.22,"d":6},{"t":-7.19,"d":-31},{"t":-7.16,"d":20},{"t":-7.12,"d":-3},{"t":-7.09,"d":45},{"t":-7.06,"d":-25},{"t":-7.02,"d":14},
{"t":-6.98,"d":5},{"t":-6.94,"d":-18},{"t":-6.91,"d":28},{"t":-6.88,"d":-39},{"t":-6.84,"d":12},{"t":-6.81,"d":-7},{"t":-6.78,"d":43},{"t":-6.74,"d":-24},{"t":-6.71,"d":17},{"t":-6.68,"d":1},{"t":-6.64,"d":-32},{"t":-6.61,"d":24},{"t":-6.58,"d":-11},{"t":-6.54,"d":37},{"t":-6.51,"d":-46},{"t":-6.48,"d":8},{"t":-6.44,"d":21},{"t":-6.41,"d":-4},{"t":-6.38,"d":-28},{"t":-6.34,"d":15},{"t":-6.31,"d":33},{"t":-6.28,"d":-14},{"t":-6.24,"d":3},{"t":-6.21,"d":-53},{"t":-6.18,"d":26},{"t":-6.14,"d":10},{"t":-6.11,"d":-21},{"t":-6.08,"d":48},{"t":-6.04,"d":-8},{"t":-6.01,"d":19},
{"t":-5.99,"d":-3},{"t":-5.96,"d":31},{"t":-5.92,"d":-15},{"t":-5.89,"d":9},{"t":-5.86,"d":-44},{"t":-5.82,"d":22},{"t":-5.79,"d":4},{"t":-5.76,"d":-25},{"t":-5.72,"d":38},{"t":-5.69,"d":-10},{"t":-5.66,"d":14},{"t":-5.62,"d":-35},{"t":-5.59,"d":27},{"t":-5.56,"d":-1},{"t":-5.52,"d":18},{"t":-5.49,"d":-57},{"t":-5.46,"d":11},{"t":-5.42,"d":35},{"t":-5.39,"d":-19},{"t":-5.36,"d":6},{"t":-5.32,"d":-29},{"t":-5.29,"d":25},{"t":-5.26,"d":-8},{"t":-5.22,"d":41},{"t":-5.19,"d":-13},{"t":-5.16,"d":2},{"t":-5.12,"d":-38},{"t":-5.09,"d":16},{"t":-5.06,"d":29},{"t":-5.02,"d":-22},
{"t":-4.98,"d":17},{"t":-4.94,"d":-9},{"t":-4.91,"d":-33},{"t":-4.88,"d":23},{"t":-4.84,"d":7},{"t":-4.81,"d":-47},{"t":-4.78,"d":13},{"t":-4.74,"d":36},{"t":-4.71,"d":-17},{"t":-4.68,"d":3},{"t":-4.64,"d":27},{"t":-4.61,"d":-26},{"t":-4.58,"d":10},{"t":-4.54,"d":-41},{"t":-4.51,"d":20},{"t":-4.48,"d":-5},{"t":-4.44,"d":46},{"t":-4.41,"d":-12},{"t":-4.38,"d":-30},{"t":-4.34,"d":15},{"t":-4.31,"d":1},{"t":-4.28,"d":-20},{"t":-4.24,"d":32},{"t":-4.21,"d":-50},{"t":-4.18,"d":8},{"t":-4.14,"d":24},{"t":-4.11,"d":-14},{"t":-4.08,"d":39},{"t":-4.04,"d":-2},{"t":-4.01,"d":-36},
{"t":-3.99,"d":-16},{"t":-3.96,"d":26},{"t":-3.92,"d":2},{"t":-3.89,"d":-31},{"t":-3.86,"d":18},{"t":-3.82,"d":-8},{"t":-3.79,"d":40},{"t":-3.76,"d":-23},{"t":-3.72,"d":12},{"t":-3.69,"d":-45},{"t":-3.66,"d":30},{"t":-3.62,"d":-4},{"t":-3.59,"d":21},{"t":-3.56,"d":-13},{"t":-3.52,"d":5},{"t":-3.49,"d":-37},{"t":-3.46,"d":35},{"t":-3.42,"d":9},{"t":-3.39,"d":-24},{"t":-3.36,"d":16},{"t":-3.32,"d":-58},{"t":-3.29,"d":22},{"t":-3.26,"d":-6},{"t":-3.22,"d":28},{"t":-3.19,"d":-18},{"t":-3.16,"d":44},{"t":-3.12,"d":-11},{"t":-3.09,"d":14},{"t":-3.06,"d":-28},{"t":-3.02,"d":7},
{"t":-2.98,"d":10},{"t":-2.94,"d":-25},{"t":-2.91,"d":33},{"t":-2.88,"d":-8},{"t":-2.84,"d":19},{"t":-2.81,"d":-39},{"t":-2.78,"d":4},{"t":-2.74,"d":26},{"t":-2.71,"d":-15},{"t":-2.68,"d":48},{"t":-2.64,"d":-30},{"t":-2.61,"d":13},{"t":-2.58,"d":-2},{"t":-2.54,"d":37},{"t":-2.51,"d":-20},{"t":-2.48,"d":7},{"t":-2.44,"d":-46},{"t":-2.41,"d":22},{"t":-2.38,"d":15},{"t":-2.34,"d":-11},{"t":-2.31,"d":41},{"t":-2.28,"d":-27},{"t":-2.24,"d":6},{"t":-2.21,"d":-35},{"t":-2.18,"d":29},{"t":-2.14,"d":4},{"t":-2.11,"d":-4},{"t":-2.08,"d":29},{"t":-2.04,"d":28},{"t":-2.01,"d":49},
{"t":-1.99,"d":14},{"t":-1.96,"d":40},{"t":-1.92,"d":13},{"t":-1.89,"d":43},{"t":-1.86,"d":68},{"t":-1.82,"d":38},{"t":-1.79,"d":56},{"t":-1.76,"d":32},{"t":-1.72,"d":81},{"t":-1.69,"d":61},{"t":-1.66,"d":80},{"t":-1.62,"d":102},{"t":-1.59,"d":57},{"t":-1.56,"d":82},{"t":-1.52,"d":73},{"t":-1.49,"d":98},{"t":-1.46,"d":54},{"t":-1.42,"d":88},{"t":-1.39,"d":115},{"t":-1.36,"d":70},{"t":-1.32,"d":97},{"t":-1.29,"d":80},{"t":-1.26,"d":63},{"t":-1.22,"d":110},{"t":-1.19,"d":87},{"t":-1.16,"d":70},{"t":-1.12,"d":106},{"t":-1.09,"d":77},{"t":-1.06,"d":97},{"t":-1.02,"d":123},
{"t":-0.98,"d":98},{"t":-0.94,"d":68},{"t":-0.91,"d":90},{"t":-0.88,"d":110},{"t":-0.84,"d":77},{"t":-0.81,"d":61},{"t":-0.78,"d":103},{"t":-0.74,"d":88},{"t":-0.71,"d":73},{"t":-0.68,"d":118},{"t":-0.64,"d":95},{"t":-0.61,"d":67},{"t":-0.58,"d":107},{"t":-0.54,"d":84},{"t":-0.51,"d":98},{"t":-0.48,"d":55},{"t":-0.44,"d":115},{"t":-0.41,"d":78},{"t":-0.38,"d":92},{"t":-0.34,"d":104},{"t":-0.31,"d":82},{"t":-0.28,"d":126},{"t":-0.24,"d":73},{"t":-0.21,"d":97},{"t":-0.18,"d":110},{"t":-0.14,"d":87},{"t":-0.11,"d":65},{"t":-0.08,"d":102},{"t":-0.04,"d":118},{"t":-0.01,"d":77},
{"t":0.01,"d":84},{"t":0.04,"d":110},{"t":0.08,"d":74},{"t":0.11,"d":98},{"t":0.14,"d":122},{"t":0.18,"d":67},{"t":0.21,"d":92},{"t":0.24,"d":103},{"t":0.28,"d":59},{"t":0.31,"d":114},{"t":0.34,"d":88},{"t":0.38,"d":100},{"t":0.41,"d":71},{"t":0.44,"d":128},{"t":0.48,"d":94},{"t":0.51,"d":79},{"t":0.54,"d":106},{"t":0.58,"d":62},{"t":0.61,"d":117},{"t":0.64,"d":90},{"t":0.68,"d":75},{"t":0.71,"d":110},{"t":0.74,"d":95},{"t":0.78,"d":52},{"t":0.81,"d":103},{"t":0.84,"d":82},{"t":0.88,"d":113},{"t":0.91,"d":67},{"t":0.94,"d":96},{"t":0.98,"d":91},
{"t":1.02,"d":102},{"t":1.06,"d":75},{"t":1.09,"d":110},{"t":1.12,"d":81},{"t":1.16,"d":92},{"t":1.19,"d":61},{"t":1.22,"d":114},{"t":1.26,"d":86},{"t":1.29,"d":68},{"t":1.32,"d":101},{"t":1.36,"d":52},{"t":1.39,"d":92},{"t":1.42,"d":80},{"t":1.46,"d":61},{"t":1.49,"d":101},{"t":1.52,"d":82},{"t":1.56,"d":66},{"t":1.59,"d":108},{"t":1.62,"d":52},{"t":1.66,"d":79},{"t":1.69,"d":62},{"t":1.72,"d":82},{"t":1.76,"d":45},{"t":1.79,"d":61},{"t":1.82,"d":78},{"t":1.86,"d":37},{"t":1.89,"d":53},{"t":1.92,"d":15},{"t":1.96,"d":35},{"t":1.99,"d":45},
{"t":2.01,"d":43},{"t":2.04,"d":10},{"t":2.08,"d":39},{"t":2.11,"d":17},{"t":2.14,"d":-18},{"t":2.18,"d":8},{"t":2.21,"d":-33},{"t":2.24,"d":22},{"t":2.28,"d":3},{"t":2.31,"d":-12},{"t":2.34,"d":41},{"t":2.38,"d":-26},{"t":2.41,"d":15},{"t":2.44,"d":-7},{"t":2.48,"d":36},{"t":2.51,"d":-47},{"t":2.54,"d":19},{"t":2.58,"d":6},{"t":2.61,"d":-15},{"t":2.64,"d":28},{"t":2.68,"d":-2},{"t":2.71,"d":-38},{"t":2.74,"d":11},{"t":2.78,"d":24},{"t":2.81,"d":-21},{"t":2.84,"d":45},{"t":2.88,"d":-9},{"t":2.91,"d":16},{"t":2.94,"d":-30},{"t":2.98,"d":2},
{"t":3.02,"d":-14},{"t":3.06,"d":22},{"t":3.09,"d":5},{"t":3.12,"d":-31},{"t":3.16,"d":38},{"t":3.19,"d":-8},{"t":3.22,"d":17},{"t":3.26,"d":-43},{"t":3.29,"d":9},{"t":3.32,"d":27},{"t":3.36,"d":-18},{"t":3.39,"d":1},{"t":3.42,"d":49},{"t":3.46,"d":-25},{"t":3.49,"d":13},{"t":3.52,"d":-5},{"t":3.56,"d":30},{"t":3.59,"d":-37},{"t":3.62,"d":20},{"t":3.66,"d":7},{"t":3.69,"d":-12},{"t":3.72,"d":34},{"t":3.76,"d":-55},{"t":3.79,"d":14},{"t":3.82,"d":-2},{"t":3.86,"d":25},{"t":3.89,"d":-20},{"t":3.92,"d":10},{"t":3.96,"d":43},{"t":3.99,"d":-28},
{"t":4.01,"d":6},{"t":4.04,"d":-22},{"t":4.08,"d":29},{"t":4.11,"d":-11},{"t":4.14,"d":16},{"t":4.18,"d":-40},{"t":4.21,"d":3},{"t":4.24,"d":24},{"t":4.28,"d":-16},{"t":4.31,"d":37},{"t":4.34,"d":-6},{"t":4.38,"d":12},{"t":4.41,"d":-30},{"t":4.44,"d":21},{"t":4.48,"d":-59},{"t":4.51,"d":9},{"t":4.54,"d":33},{"t":4.58,"d":-13},{"t":4.61,"d":18},{"t":4.64,"d":-27},{"t":4.68,"d":4},{"t":4.71,"d":41},{"t":4.74,"d":-9},{"t":4.78,"d":15},{"t":4.81,"d":-35},{"t":4.84,"d":26},{"t":4.88,"d":-1},{"t":4.91,"d":-19},{"t":4.94,"d":11},{"t":4.98,"d":31},
{"t":5.02,"d":-9},{"t":5.06,"d":35},{"t":5.09,"d":-24},{"t":5.12,"d":10},{"t":5.16,"d":-3},{"t":5.19,"d":46},{"t":5.22,"d":-17},{"t":5.26,"d":7},{"t":5.29,"d":-33},{"t":5.32,"d":20},{"t":5.36,"d":2},{"t":5.39,"d":-12},{"t":5.42,"d":28},{"t":5.46,"d":-44},{"t":5.49,"d":16},{"t":5.52,"d":39},{"t":5.56,"d":-7},{"t":5.59,"d":13},{"t":5.62,"d":-26},{"t":5.66,"d":5},{"t":5.69,"d":24},{"t":5.72,"d":-50},{"t":5.76,"d":18},{"t":5.79,"d":-15},{"t":5.82,"d":32},{"t":5.86,"d":1},{"t":5.89,"d":-21},{"t":5.92,"d":8},{"t":5.96,"d":42},{"t":5.99,"d":-11},
{"t":6.01,"d":14},{"t":6.04,"d":-28},{"t":6.08,"d":4},{"t":6.11,"d":30},{"t":6.14,"d":-14},{"t":6.18,"d":21},{"t":6.21,"d":-5},{"t":6.24,"d":-47},{"t":6.28,"d":26},{"t":6.31,"d":10},{"t":6.34,"d":-20},{"t":6.38,"d":38},{"t":6.41,"d":-9},{"t":6.44,"d":17},{"t":6.48,"d":1},{"t":6.51,"d":-35},{"t":6.54,"d":23},{"t":6.58,"d":48},{"t":6.61,"d":-16},{"t":6.64,"d":7},{"t":6.68,"d":-3},{"t":6.71,"d":29},{"t":6.74,"d":-41},{"t":6.78,"d":12},{"t":6.81,"d":-24},{"t":6.84,"d":19},{"t":6.88,"d":35},{"t":6.91,"d":-8},{"t":6.94,"d":-56},{"t":6.98,"d":22},
{"t":7.02,"d":-20},{"t":7.06,"d":9},{"t":7.09,"d":33},{"t":7.12,"d":-6},{"t":7.16,"d":18},{"t":7.19,"d":-39},{"t":7.22,"d":2},{"t":7.26,"d":27},{"t":7.29,"d":-13},{"t":7.32,"d":44},{"t":7.36,"d":-30},{"t":7.39,"d":11},{"t":7.42,"d":-1},{"t":7.46,"d":22},{"t":7.49,"d":-18},{"t":7.52,"d":5},{"t":7.56,"d":-52},{"t":7.59,"d":31},{"t":7.62,"d":15},{"t":7.66,"d":-10},{"t":7.69,"d":37},{"t":7.72,"d":-25},{"t":7.76,"d":8},{"t":7.79,"d":20},{"t":7.82,"d":-4},{"t":7.86,"d":-34},{"t":7.89,"d":26},{"t":7.92,"d":13},{"t":7.96,"d":-15},{"t":7.99,"d":47},
{"t":8.01,"d":3},{"t":8.04,"d":-16},{"t":8.08,"d":25},{"t":8.11,"d":-42},{"t":8.14,"d":12},{"t":8.18,"d":36},{"t":8.21,"d":-9},{"t":8.24,"d":19},{"t":8.28,"d":-27},{"t":8.31,"d":7},{"t":8.34,"d":50},{"t":8.38,"d":-20},{"t":8.41,"d":14},{"t":8.44,"d":-3},{"t":8.48,"d":31},{"t":8.51,"d":-37},{"t":8.54,"d":9},{"t":8.58,"d":22},{"t":8.61,"d":-12},{"t":8.64,"d":40},{"t":8.68,"d":-6},{"t":8.71,"d":-29},{"t":8.74,"d":17},{"t":8.78,"d":1},{"t":8.81,"d":28},{"t":8.84,"d":-45},{"t":8.88,"d":11},{"t":8.91,"d":-18},{"t":8.94,"d":34},{"t":8.98,"d":-8},
{"t":9.02,"d":21},{"t":9.06,"d":-11},{"t":9.09,"d":-38},{"t":9.12,"d":15},{"t":9.16,"d":4},{"t":9.19,"d":29},{"t":9.22,"d":-23},{"t":9.26,"d":10},{"t":9.29,"d":42},{"t":9.32,"d":-7},{"t":9.36,"d":18},{"t":9.39,"d":-31},{"t":9.42,"d":2},{"t":9.46,"d":-49},{"t":9.49,"d":26},{"t":9.52,"d":13},{"t":9.56,"d":-15},{"t":9.59,"d":35},{"t":9.62,"d":-4},{"t":9.66,"d":20},{"t":9.69,"d":-26},{"t":9.72,"d":8},{"t":9.76,"d":47},{"t":9.79,"d":-19},{"t":9.82,"d":12},{"t":9.86,"d":-36},{"t":9.89,"d":24},{"t":9.92,"d":-2},{"t":9.96,"d":-57},{"t":9.99,"d":16},
{"t":-2.22,"d":8},{"t":-2.2,"d":22},{"t":-2.19,"d":-5},{"t":-2.17,"d":35},{"t":-2.16,"d":14},{"t":-2.15,"d":48},{"t":-2.13,"d":27},{"t":-2.12,"d":3},{"t":-2.1,"d":40},{"t":-2.09,"d":57},{"t":-2.07,"d":18},{"t":-2.06,"d":32},{"t":-2.03,"d":62},{"t":-2.02,"d":44},{"t":-2,"d":25},{"t":-1.98,"d":52},{"t":-1.97,"d":70},{"t":-1.94,"d":38},{"t":-1.9,"d":60},{"t":-1.87,"d":80},
{"t":1.84,"d":62},{"t":1.87,"d":30},{"t":1.89,"d":55},{"t":1.91,"d":44},{"t":1.93,"d":20},{"t":1.95,"d":38},{"t":1.97,"d":12},{"t":1.98,"d":50},{"t":2,"d":28},{"t":2.02,"d":5},{"t":2.03,"d":34},{"t":2.05,"d":18},{"t":2.07,"d":45},{"t":2.09,"d":-2},{"t":2.1,"d":24},{"t":2.12,"d":10},{"t":2.15,"d":30},{"t":2.17,"d":-8},{"t":2.19,"d":15},
{"t":-1.7,"d":95},{"t":-1.5,"d":62},{"t":-1.35,"d":108},{"t":-1.25,"d":92},{"t":-1.1,"d":118},{"t":-0.95,"d":80},{"t":-0.85,"d":100},{"t":-0.75,"d":112},{"t":-0.66,"d":72},{"t":-0.64,"d":165},{"t":-0.55,"d":96},{"t":-0.45,"d":120},{"t":-0.35,"d":85},{"t":-0.27,"d":104},{"t":-0.16,"d":68},{"t":-0.07,"d":99},{"t":0.05,"d":116},{"t":0.13,"d":87},{"t":0.22,"d":78},{"t":0.3,"d":101},{"t":0.39,"d":64},{"t":0.47,"d":111},{"t":0.56,"d":93},{"t":0.63,"d":82},{"t":0.72,"d":121},{"t":0.8,"d":70},{"t":0.9,"d":106},{"t":1,"d":89},{"t":1.1,"d":74},{"t":1.2,"d":97},{"t":1.3,"d":112},{"t":1.45,"d":66},{"t":1.55,"d":90},{"t":1.65,"d":105},
{"t":-9.97,"d":33},{"t":-9.9,"d":-7},{"t":-9.84,"d":-41},{"t":-9.77,"d":18},{"t":-9.7,"d":2},{"t":-9.64,"d":27},{"t":-9.57,"d":-19},{"t":-9.5,"d":-55},{"t":-9.44,"d":10},{"t":-9.37,"d":41},{"t":-9.3,"d":-30},{"t":-9.24,"d":6},{"t":-9.17,"d":22},{"t":-9.1,"d":-13},{"t":-9.04,"d":-47},
{"t":-8.97,"d":-25},{"t":-8.9,"d":43},{"t":-8.84,"d":12},{"t":-8.77,"d":-8},{"t":-8.7,"d":-36},{"t":-8.64,"d":29},{"t":-8.57,"d":4},{"t":-8.5,"d":-51},{"t":-8.44,"d":17},{"t":-8.37,"d":35},{"t":-8.3,"d":-16},{"t":-8.24,"d":-3},{"t":-8.17,"d":50},{"t":-8.1,"d":-28},{"t":-8.04,"d":9},
{"t":-7.97,"d":20},{"t":-7.9,"d":-44},{"t":-7.84,"d":1},{"t":-7.77,"d":32},{"t":-7.7,"d":-17},{"t":-7.64,"d":46},{"t":-7.57,"d":-29},{"t":-7.5,"d":11},{"t":-7.44,"d":-6},{"t":-7.37,"d":-53},{"t":-7.3,"d":24},{"t":-7.24,"d":38},{"t":-7.17,"d":-12},{"t":-7.1,"d":3},{"t":-7.04,"d":-35},
{"t":-6.97,"d":-9},{"t":-6.9,"d":36},{"t":-6.84,"d":-52},{"t":-6.77,"d":14},{"t":-6.7,"d":25},{"t":-6.64,"d":-21},{"t":-6.57,"d":7},{"t":-6.5,"d":44},{"t":-6.44,"d":-33},{"t":-6.37,"d":-1},{"t":-6.3,"d":19},{"t":-6.24,"d":-43},{"t":-6.17,"d":30},{"t":-6.1,"d":12},{"t":-6.04,"d":-24},
{"t":-5.97,"d":42},{"t":-5.9,"d":-14},{"t":-5.84,"d":10},{"t":-5.77,"d":-38},{"t":-5.7,"d":31},{"t":-5.64,"d":0},{"t":-5.57,"d":-22},{"t":-5.5,"d":53},{"t":-5.44,"d":-45},{"t":-5.37,"d":15},{"t":-5.3,"d":4},{"t":-5.24,"d":-30},{"t":-5.17,"d":21},{"t":-5.1,"d":-55},{"t":-5.04,"d":34},
{"t":-4.97,"d":-31},{"t":-4.9,"d":5},{"t":-4.84,"d":37},{"t":-4.77,"d":-19},{"t":-4.7,"d":-50},{"t":-4.64,"d":24},{"t":-4.57,"d":12},{"t":-4.5,"d":-8},{"t":-4.44,"d":45},{"t":-4.37,"d":-27},{"t":-4.3,"d":30},{"t":-4.24,"d":-40},{"t":-4.17,"d":1},{"t":-4.1,"d":18},{"t":-4.04,"d":-12},
{"t":-3.97,"d":11},{"t":-3.9,"d":-37},{"t":-3.84,"d":24},{"t":-3.77,"d":47},{"t":-3.7,"d":-15},{"t":-3.64,"d":-28},{"t":-3.57,"d":39},{"t":-3.5,"d":6},{"t":-3.44,"d":-58},{"t":-3.37,"d":19},{"t":-3.3,"d":-4},{"t":-3.24,"d":33},{"t":-3.17,"d":-22},{"t":-3.1,"d":51},{"t":-3.04,"d":-9},
{"t":-2.97,"d":-20},{"t":-2.9,"d":38},{"t":-2.84,"d":7},{"t":-2.77,"d":-33},{"t":-2.7,"d":22},{"t":-2.64,"d":-48},{"t":-2.57,"d":15},{"t":-2.5,"d":31},{"t":-2.44,"d":-6},{"t":-2.37,"d":-27},{"t":-2.3,"d":44},{"t":-2.24,"d":9},{"t":-2.17,"d":-15},{"t":-2.1,"d":31},{"t":-2.04,"d":32},
{"t":-1.97,"d":43},{"t":-1.9,"d":23},{"t":-1.84,"d":77},{"t":-1.77,"d":36},{"t":-1.7,"d":75},{"t":-1.64,"d":96},{"t":-1.57,"d":44},{"t":-1.5,"d":91},{"t":-1.44,"d":70},{"t":-1.37,"d":113},{"t":-1.3,"d":64},{"t":-1.24,"d":86},{"t":-1.17,"d":104},{"t":-1.1,"d":58},{"t":-1.04,"d":97},
{"t":-0.97,"d":64},{"t":-0.9,"d":102},{"t":-0.84,"d":123},{"t":-0.77,"d":76},{"t":-0.7,"d":92},{"t":-0.64,"d":58},{"t":-0.57,"d":112},{"t":-0.5,"d":85},{"t":-0.44,"d":101},{"t":-0.37,"d":70},{"t":-0.3,"d":118},{"t":-0.24,"d":81},{"t":-0.17,"d":129},{"t":-0.1,"d":64},{"t":-0.04,"d":92},
{"t":0.03,"d":116},{"t":0.1,"d":73},{"t":0.16,"d":97},{"t":0.23,"d":55},{"t":0.3,"d":108},{"t":0.36,"d":91},{"t":0.43,"d":66},{"t":0.5,"d":123},{"t":0.56,"d":78},{"t":0.63,"d":102},{"t":0.7,"d":60},{"t":0.76,"d":110},{"t":0.83,"d":82},{"t":0.9,"d":117},{"t":0.96,"d":68},
{"t":1.03,"d":95},{"t":1.1,"d":60},{"t":1.16,"d":112},{"t":1.23,"d":75},{"t":1.3,"d":96},{"t":1.36,"d":47},{"t":1.43,"d":101},{"t":1.5,"d":78},{"t":1.56,"d":61},{"t":1.63,"d":103},{"t":1.7,"d":47},{"t":1.76,"d":68},{"t":1.83,"d":45},{"t":1.9,"d":57},{"t":1.96,"d":15},
{"t":2.03,"d":19},{"t":2.1,"d":30},{"t":2.16,"d":-36},{"t":2.23,"d":12},{"t":2.3,"d":-9},{"t":2.36,"d":40},{"t":2.43,"d":-21},{"t":2.5,"d":7},{"t":2.56,"d":-47},{"t":2.63,"d":18},{"t":2.7,"d":33},{"t":2.76,"d":-14},{"t":2.83,"d":2},{"t":2.9,"d":-28},{"t":2.96,"d":46},
{"t":3.03,"d":-6},{"t":3.1,"d":28},{"t":3.16,"d":-42},{"t":3.23,"d":16},{"t":3.3,"d":35},{"t":3.36,"d":-19},{"t":3.43,"d":3},{"t":3.5,"d":-30},{"t":3.56,"d":49},{"t":3.63,"d":10},{"t":3.7,"d":-25},{"t":3.76,"d":21},{"t":3.83,"d":-8},{"t":3.9,"d":-53},{"t":3.96,"d":37},
{"t":4.03,"d":24},{"t":4.1,"d":-13},{"t":4.16,"d":7},{"t":4.23,"d":-46},{"t":4.3,"d":30},{"t":4.36,"d":12},{"t":4.43,"d":-35},{"t":4.5,"d":43},{"t":4.56,"d":-2},{"t":4.63,"d":18},{"t":4.7,"d":-58},{"t":4.76,"d":26},{"t":4.83,"d":-20},{"t":4.9,"d":5},{"t":4.96,"d":38},
{"t":5.03,"d":-37},{"t":5.1,"d":14},{"t":5.16,"d":45},{"t":5.23,"d":-10},{"t":5.3,"d":-27},{"t":5.36,"d":32},{"t":5.43,"d":8},{"t":5.5,"d":-48},{"t":5.56,"d":19},{"t":5.63,"d":1},{"t":5.7,"d":36},{"t":5.76,"d":-23},{"t":5.83,"d":11},{"t":5.9,"d":-5},{"t":5.96,"d":55},
{"t":6.03,"d":9},{"t":6.1,"d":-32},{"t":6.16,"d":22},{"t":6.23,"d":39},{"t":6.3,"d":-17},{"t":6.36,"d":-45},{"t":6.43,"d":27},{"t":6.5,"d":4},{"t":6.56,"d":-12},{"t":6.63,"d":50},{"t":6.7,"d":-38},{"t":6.76,"d":16},{"t":6.83,"d":31},{"t":6.9,"d":-24},{"t":6.96,"d":2},
{"t":7.03,"d":-50},{"t":7.1,"d":18},{"t":7.16,"d":-8},{"t":7.23,"d":29},{"t":7.3,"d":-21},{"t":7.36,"d":6},{"t":7.43,"d":46},{"t":7.5,"d":-35},{"t":7.56,"d":13},{"t":7.63,"d":-3},{"t":7.7,"d":34},{"t":7.76,"d":-28},{"t":7.83,"d":57},{"t":7.9,"d":10},{"t":7.96,"d":-16},
{"t":8.03,"d":30},{"t":8.1,"d":-4},{"t":8.16,"d":-39},{"t":8.23,"d":21},{"t":8.3,"d":8},{"t":8.36,"d":-56},{"t":8.43,"d":25},{"t":8.5,"d":41},{"t":8.56,"d":-18},{"t":8.63,"d":14},{"t":8.7,"d":-29},{"t":8.76,"d":3},{"t":8.83,"d":48},{"t":8.9,"d":-11},{"t":8.96,"d":19},
{"t":9.03,"d":-21},{"t":9.1,"d":40},{"t":9.16,"d":11},{"t":9.23,"d":-33},{"t":9.3,"d":26},{"t":9.36,"d":-7},{"t":9.43,"d":-51},{"t":9.5,"d":17},{"t":9.56,"d":35},{"t":9.63,"d":-14},{"t":9.7,"d":5},{"t":9.76,"d":29},{"t":9.83,"d":-44},{"t":9.9,"d":22},{"t":9.96,"d":-1}],
"mb":[{"t":-10,"d":0},{"t":-2.15,"d":0},{"t":-2.1,"d":5},{"t":-2.05,"d":12},{"t":-2,"d":20},{"t":-1.95,"d":28},{"t":-1.9,"d":36.5},{"t":-1.85,"d":45},{"t":-1.8,"d":53},{"t":-1.75,"d":60},{"t":-1.7,"d":65.5},{"t":-1.65,"d":70},{"t":-1.6,"d":73},{"t":-1.55,"d":75.5},{"t":-1.47,"d":77.8},{"t":-1.4,"d":79.5},{"t":-1.3,"d":81.4},{"t":-1.2,"d":83},{"t":-1,"d":85.5},{"t":-0.75,"d":87.2},{"t":-0.5,"d":88.5},{"t":-0.25,"d":89.2},{"t":0,"d":89.5},{"t":0.25,"d":89.2},{"t":0.5,"d":88.5},{"t":0.75,"d":87.2},{"t":1,"d":85.5},{"t":1.2,"d":83},{"t":1.3,"d":81.4},{"t":1.4,"d":79.5},{"t":1.47,"d":77.8},{"t":1.55,"d":75.5},{"t":1.6,"d":73},{"t":1.65,"d":70},{"t":1.7,"d":65.5},{"t":1.75,"d":60},{"t":1.8,"d":53},{"t":1.85,"d":45},{"t":1.9,"d":36.5},{"t":1.95,"d":28},{"t":2,"d":20},{"t":2.05,"d":12},{"t":2.1,"d":5},{"t":2.15,"d":0},{"t":10,"d":0}],
"bb":[{"t":-9.63,"d":-0.8,"e":4.5},{"t":-8.71,"d":-1.3,"e":4.5},{"t":-7.77,"d":-6.7,"e":4.5},{"t":-6.91,"d":-1.3,"e":4.5},{"t":-5.97,"d":-1.9,"e":4.5},{"t":-5.01,"d":1.9,"e":4.5},{"t":-4.04,"d":3.5,"e":4.5},{"t":-3.1,"d":6.2,"e":4.5},{"t":-2.12,"d":12.1,"e":5},{"t":-1.13,"d":83.7,"e":4.5},{"t":-0.15,"d":85.4,"e":4.5},{"t":0.84,"d":87.6,"e":4.5},{"t":1.84,"d":36.4,"e":6},{"t":2.81,"d":-6.7,"e":4.5},{"t":3.79,"d":4.6,"e":4.5},{"t":4.78,"d":-3.5,"e":4.5},{"t":5.76,"d":3,"e":4.5},{"t":6.75,"d":-3.5,"e":4.5},{"t":7.73,"d":-1.9,"e":4.5},{"t":8.72,"d":-7.8,"e":4.5},{"t":9.68,"d":0.3,"e":4.5}],
"pc":[{"t":-9.98,"d":-15},{"t":-9.94,"d":22},{"t":-9.9,"d":4},{"t":-9.86,"d":-33},{"t":-9.82,"d":11},{"t":-9.77,"d":40},{"t":-9.73,"d":-8},{"t":-9.69,"d":17},{"t":-9.65,"d":-24},{"t":-9.61,"d":2},{"t":-9.57,"d":29},{"t":-9.53,"d":-41},{"t":-9.48,"d":13},{"t":-9.44,"d":-4},{"t":-9.4,"d":35},{"t":-9.36,"d":-19},{"t":-9.32,"d":7},{"t":-9.28,"d":48},{"t":-9.23,"d":-12},{"t":-9.19,"d":20},{"t":-9.15,"d":-29},{"t":-9.11,"d":5},{"t":-9.07,"d":-46},{"t":-9.03,"d":26},
{"t":-8.96,"d":9},{"t":-8.92,"d":-21},{"t":-8.88,"d":31},{"t":-8.84,"d":-6},{"t":-8.8,"d":16},{"t":-8.75,"d":-38},{"t":-8.71,"d":24},{"t":-8.67,"d":1},{"t":-8.63,"d":-14},{"t":-8.59,"d":42},{"t":-8.55,"d":-27},{"t":-8.5,"d":8},{"t":-8.46,"d":19},{"t":-8.42,"d":-3},{"t":-8.38,"d":-50},{"t":-8.34,"d":27},{"t":-8.3,"d":12},{"t":-8.25,"d":-17},{"t":-8.21,"d":33},{"t":-8.17,"d":-9},{"t":-8.13,"d":4},{"t":-8.09,"d":23},{"t":-8.05,"d":-31},{"t":-8.01,"d":14},
{"t":-7.98,"d":-4},{"t":-7.94,"d":28},{"t":-7.9,"d":-19},{"t":-7.86,"d":10},{"t":-7.82,"d":-36},{"t":-7.77,"d":18},{"t":-7.73,"d":3},{"t":-7.69,"d":45},{"t":-7.65,"d":-23},{"t":-7.61,"d":13},{"t":-7.57,"d":-8},{"t":-7.53,"d":30},{"t":-7.48,"d":-44},{"t":-7.44,"d":6},{"t":-7.4,"d":21},{"t":-7.36,"d":-13},{"t":-7.32,"d":38},{"t":-7.28,"d":-2},{"t":-7.23,"d":-28},{"t":-7.19,"d":16},{"t":-7.15,"d":52},{"t":-7.11,"d":-16},{"t":-7.07,"d":9},{"t":-7.03,"d":-34},
{"t":-6.96,"d":19},{"t":-6.92,"d":-10},{"t":-6.88,"d":34},{"t":-6.84,"d":-25},{"t":-6.8,"d":2},{"t":-6.75,"d":14},{"t":-6.71,"d":-40},{"t":-6.67,"d":26},{"t":-6.63,"d":7},{"t":-6.59,"d":-15},{"t":-6.55,"d":43},{"t":-6.5,"d":-5},{"t":-6.46,"d":22},{"t":-6.42,"d":-32},{"t":-6.38,"d":11},{"t":-6.34,"d":-1},{"t":-6.3,"d":29},{"t":-6.25,"d":-20},{"t":-6.21,"d":6},{"t":-6.17,"d":37},{"t":-6.13,"d":-48},{"t":-6.09,"d":15},{"t":-6.05,"d":-7},{"t":-6.01,"d":24},
{"t":-5.98,"d":-12},{"t":-5.94,"d":25},{"t":-5.9,"d":7},{"t":-5.86,"d":-29},{"t":-5.82,"d":39},{"t":-5.77,"d":-3},{"t":-5.73,"d":16},{"t":-5.69,"d":-42},{"t":-5.65,"d":20},{"t":-5.61,"d":1},{"t":-5.57,"d":-18},{"t":-5.53,"d":33},{"t":-5.48,"d":10},{"t":-5.44,"d":-24},{"t":-5.4,"d":47},{"t":-5.36,"d":-9},{"t":-5.32,"d":4},{"t":-5.28,"d":-35},{"t":-5.23,"d":23},{"t":-5.19,"d":12},{"t":-5.15,"d":-6},{"t":-5.11,"d":31},{"t":-5.07,"d":-54},{"t":-5.03,"d":17},
{"t":-4.96,"d":6},{"t":-4.92,"d":-26},{"t":-4.88,"d":20},{"t":-4.84,"d":-8},{"t":-4.8,"d":36},{"t":-4.75,"d":-16},{"t":-4.71,"d":27},{"t":-4.67,"d":3},{"t":-4.63,"d":-38},{"t":-4.59,"d":15},{"t":-4.55,"d":-2},{"t":-4.5,"d":41},{"t":-4.46,"d":-22},{"t":-4.42,"d":9},{"t":-4.38,"d":-11},{"t":-4.34,"d":29},{"t":-4.3,"d":-45},{"t":-4.25,"d":18},{"t":-4.21,"d":5},{"t":-4.17,"d":-30},{"t":-4.13,"d":24},{"t":-4.09,"d":-14},{"t":-4.05,"d":44},{"t":-4.01,"d":-1},
{"t":-3.98,"d":-20},{"t":-3.94,"d":13},{"t":-3.9,"d":32},{"t":-3.86,"d":-7},{"t":-3.82,"d":18},{"t":-3.77,"d":-39},{"t":-3.73,"d":8},{"t":-3.69,"d":26},{"t":-3.65,"d":-13},{"t":-3.61,"d":49},{"t":-3.57,"d":-27},{"t":-3.53,"d":2},{"t":-3.48,"d":15},{"t":-3.44,"d":-4},{"t":-3.4,"d":35},{"t":-3.36,"d":-33},{"t":-3.32,"d":11},{"t":-3.28,"d":-17},{"t":-3.23,"d":22},{"t":-3.19,"d":6},{"t":-3.15,"d":-47},{"t":-3.11,"d":30},{"t":-3.07,"d":-9},{"t":-3.03,"d":17},
{"t":-2.96,"d":14},{"t":-2.92,"d":-23},{"t":-2.88,"d":30},{"t":-2.84,"d":-5},{"t":-2.8,"d":9},{"t":-2.75,"d":-36},{"t":-2.71,"d":21},{"t":-2.67,"d":3},{"t":-2.63,"d":-15},{"t":-2.59,"d":39},{"t":-2.55,"d":-6},{"t":-2.5,"d":33},{"t":-2.46,"d":11},{"t":-2.42,"d":62},{"t":-2.38,"d":108},{"t":-2.34,"d":94},{"t":-2.3,"d":158},{"t":-2.25,"d":180},{"t":-2.21,"d":267},{"t":-2.17,"d":273},{"t":-2.13,"d":342},{"t":-2.09,"d":321},{"t":-2.05,"d":385},{"t":-2.01,"d":384},
{"t":-2.57,"d":12},{"t":-2.53,"d":-10},{"t":-2.48,"d":20},{"t":-2.44,"d":45},{"t":-2.4,"d":70},{"t":-2.36,"d":85},{"t":-2.33,"d":130},{"t":-2.28,"d":175},{"t":-2.27,"d":190},{"t":-2.24,"d":225},{"t":-2.23,"d":230},{"t":-2.19,"d":270},{"t":-2.15,"d":300},{"t":-2.11,"d":330},{"t":-2.07,"d":370},{"t":-2.03,"d":395},
{"t":-1.98,"d":427},{"t":-1.95,"d":401},{"t":-1.91,"d":445},{"t":-1.88,"d":475},{"t":-1.84,"d":443},{"t":-1.8,"d":469},{"t":-1.77,"d":443},{"t":-1.73,"d":498},{"t":-1.7,"d":479},{"t":-1.66,"d":516},{"t":-1.63,"d":478},{"t":-1.59,"d":510},{"t":-1.55,"d":471},{"t":-1.52,"d":511},{"t":-1.48,"d":535},{"t":-1.45,"d":509},{"t":-1.41,"d":558},{"t":-1.38,"d":506},{"t":-1.34,"d":542},{"t":-1.3,"d":532},{"t":-1.27,"d":513},{"t":-1.23,"d":568},{"t":-1.2,"d":550},{"t":-1.16,"d":534},{"t":-1.13,"d":568},{"t":-1.09,"d":524},{"t":-1.06,"d":565},{"t":-1.02,"d":592},
{"t":-0.98,"d":543},{"t":-0.95,"d":573},{"t":-0.91,"d":536},{"t":-0.88,"d":593},{"t":-0.84,"d":575},{"t":-0.8,"d":562},{"t":-0.77,"d":596},{"t":-0.73,"d":552},{"t":-0.7,"d":587},{"t":-0.66,"d":597},{"t":-0.63,"d":564},{"t":-0.59,"d":586},{"t":-0.55,"d":549},{"t":-0.52,"d":616},{"t":-0.48,"d":582},{"t":-0.45,"d":603},{"t":-0.41,"d":568},{"t":-0.38,"d":598},{"t":-0.34,"d":626},{"t":-0.3,"d":580},{"t":-0.27,"d":593},{"t":-0.23,"d":615},{"t":-0.2,"d":568},{"t":-0.16,"d":608},{"t":-0.13,"d":588},{"t":-0.09,"d":624},{"t":-0.06,"d":576},{"t":-0.02,"d":604},
{"t":0.02,"d":605},{"t":0.05,"d":571},{"t":0.09,"d":614},{"t":0.12,"d":589},{"t":0.16,"d":627},{"t":0.2,"d":578},{"t":0.23,"d":598},{"t":0.27,"d":561},{"t":0.3,"d":617},{"t":0.34,"d":590},{"t":0.38,"d":604},{"t":0.41,"d":569},{"t":0.45,"d":625},{"t":0.48,"d":576},{"t":0.52,"d":592},{"t":0.55,"d":557},{"t":0.59,"d":603},{"t":0.63,"d":576},{"t":0.66,"d":561},{"t":0.7,"d":606},{"t":0.73,"d":563},{"t":0.77,"d":584},{"t":0.8,"d":541},{"t":0.84,"d":586},{"t":0.88,"d":563},{"t":0.91,"d":588},{"t":0.95,"d":547},{"t":0.98,"d":564},
{"t":1.02,"d":549},{"t":1.05,"d":580},{"t":1.09,"d":528},{"t":1.13,"d":562},{"t":1.16,"d":553},{"t":1.2,"d":527},{"t":1.23,"d":570},{"t":1.27,"d":533},{"t":1.3,"d":513},{"t":1.34,"d":546},{"t":1.38,"d":534},{"t":1.41,"d":491},{"t":1.45,"d":538},{"t":1.48,"d":502},{"t":1.52,"d":512},{"t":1.55,"d":532},{"t":1.59,"d":481},{"t":1.62,"d":506},{"t":1.66,"d":483},{"t":1.7,"d":519},{"t":1.73,"d":455},{"t":1.77,"d":485},{"t":1.8,"d":462},{"t":1.84,"d":480},{"t":1.88,"d":430},{"t":1.91,"d":444},{"t":1.95,"d":453},{"t":1.98,"d":392},
{"t":2.02,"d":413},{"t":2.06,"d":355},{"t":2.1,"d":353},{"t":2.14,"d":290},{"t":2.18,"d":297},{"t":2.23,"d":221},{"t":2.27,"d":215},{"t":2.31,"d":123},{"t":2.35,"d":116},{"t":2.39,"d":57},{"t":2.43,"d":68},{"t":2.47,"d":-6},{"t":2.52,"d":11},{"t":2.56,"d":20},{"t":2.6,"d":-21},{"t":2.64,"d":38},{"t":2.68,"d":-3},{"t":2.72,"d":13},{"t":2.77,"d":-40},{"t":2.81,"d":22},{"t":2.85,"d":6},{"t":2.89,"d":-16},{"t":2.93,"d":29},{"t":2.97,"d":-7},
{"t":2.04,"d":385},{"t":2.08,"d":350},{"t":2.12,"d":330},{"t":2.16,"d":300},{"t":2.2,"d":262},{"t":2.21,"d":240},{"t":2.25,"d":200},{"t":2.29,"d":160},{"t":2.33,"d":125},{"t":2.37,"d":90},{"t":2.41,"d":55},{"t":2.45,"d":35},{"t":2.49,"d":12},{"t":2.54,"d":-8},{"t":2.58,"d":15},
{"t":3.04,"d":-8},{"t":3.08,"d":26},{"t":3.12,"d":-17},{"t":3.16,"d":5},{"t":3.2,"d":33},{"t":3.25,"d":-30},{"t":3.29,"d":12},{"t":3.33,"d":-2},{"t":3.37,"d":21},{"t":3.41,"d":-41},{"t":3.45,"d":16},{"t":3.5,"d":7},{"t":3.54,"d":-23},{"t":3.58,"d":39},{"t":3.62,"d":-11},{"t":3.66,"d":3},{"t":3.7,"d":28},{"t":3.75,"d":-19},{"t":3.79,"d":45},{"t":3.83,"d":-5},{"t":3.87,"d":10},{"t":3.91,"d":-36},{"t":3.95,"d":19},{"t":3.99,"d":-13},
{"t":4.02,"d":22},{"t":4.06,"d":-9},{"t":4.1,"d":4},{"t":4.14,"d":-34},{"t":4.18,"d":17},{"t":4.23,"d":30},{"t":4.27,"d":-21},{"t":4.31,"d":8},{"t":4.35,"d":-45},{"t":4.39,"d":25},{"t":4.43,"d":-3},{"t":4.47,"d":13},{"t":4.52,"d":-16},{"t":4.56,"d":36},{"t":4.6,"d":1},{"t":4.64,"d":-27},{"t":4.68,"d":20},{"t":4.72,"d":-6},{"t":4.77,"d":42},{"t":4.81,"d":-18},{"t":4.85,"d":11},{"t":4.89,"d":-39},{"t":4.93,"d":6},{"t":4.97,"d":27},
{"t":5.04,"d":-15},{"t":5.08,"d":12},{"t":5.12,"d":35},{"t":5.16,"d":-24},{"t":5.2,"d":3},{"t":5.25,"d":-7},{"t":5.29,"d":29},{"t":5.33,"d":-43},{"t":5.37,"d":18},{"t":5.41,"d":9},{"t":5.45,"d":-19},{"t":5.5,"d":47},{"t":5.54,"d":-2},{"t":5.58,"d":23},{"t":5.62,"d":-30},{"t":5.66,"d":14},{"t":5.7,"d":-10},{"t":5.75,"d":31},{"t":5.79,"d":-52},{"t":5.83,"d":16},{"t":5.87,"d":5},{"t":5.91,"d":-25},{"t":5.95,"d":38},{"t":5.99,"d":-4},
{"t":6.02,"d":10},{"t":6.06,"d":-31},{"t":6.1,"d":24},{"t":6.14,"d":-1},{"t":6.18,"d":41},{"t":6.23,"d":-14},{"t":6.27,"d":6},{"t":6.31,"d":-38},{"t":6.35,"d":19},{"t":6.39,"d":28},{"t":6.43,"d":-20},{"t":6.47,"d":2},{"t":6.52,"d":34},{"t":6.56,"d":-9},{"t":6.6,"d":-48},{"t":6.64,"d":15},{"t":6.68,"d":25},{"t":6.72,"d":-17},{"t":6.77,"d":8},{"t":6.81,"d":-27},{"t":6.85,"d":36},{"t":6.89,"d":-6},{"t":6.93,"d":13},{"t":6.97,"d":50},
{"t":7.04,"d":-22},{"t":7.08,"d":17},{"t":7.12,"d":-5},{"t":7.16,"d":30},{"t":7.2,"d":-36},{"t":7.25,"d":9},{"t":7.29,"d":44},{"t":7.33,"d":-13},{"t":7.37,"d":2},{"t":7.41,"d":-29},{"t":7.45,"d":21},{"t":7.5,"d":-8},{"t":7.54,"d":15},{"t":7.58,"d":53},{"t":7.62,"d":-19},{"t":7.66,"d":7},{"t":7.7,"d":-41},{"t":7.75,"d":26},{"t":7.79,"d":-2},{"t":7.83,"d":12},{"t":7.87,"d":-33},{"t":7.91,"d":38},{"t":7.95,"d":4},{"t":7.99,"d":-15},
{"t":8.02,"d":14},{"t":8.06,"d":-26},{"t":8.1,"d":31},{"t":8.14,"d":-10},{"t":8.18,"d":6},{"t":8.23,"d":-47},{"t":8.27,"d":22},{"t":8.31,"d":1},{"t":8.35,"d":37},{"t":8.39,"d":-18},{"t":8.43,"d":10},{"t":8.47,"d":-32},{"t":8.52,"d":27},{"t":8.56,"d":-4},{"t":8.6,"d":16},{"t":8.64,"d":45},{"t":8.68,"d":-23},{"t":8.72,"d":8},{"t":8.77,"d":-12},{"t":8.81,"d":33},{"t":8.85,"d":-38},{"t":8.89,"d":19},{"t":8.93,"d":-1},{"t":8.97,"d":25},
{"t":9.04,"d":-6},{"t":9.08,"d":28},{"t":9.12,"d":-19},{"t":9.16,"d":12},{"t":9.2,"d":-40},{"t":9.25,"d":35},{"t":9.29,"d":3},{"t":9.33,"d":-14},{"t":9.37,"d":24},{"t":9.41,"d":-28},{"t":9.45,"d":9},{"t":9.5,"d":46},{"t":9.54,"d":-11},{"t":9.58,"d":18},{"t":9.62,"d":-33},{"t":9.66,"d":5},{"t":9.7,"d":30},{"t":9.75,"d":-22},{"t":9.79,"d":14},{"t":9.83,"d":-58},{"t":9.87,"d":21},{"t":9.91,"d":-3},{"t":9.95,"d":39},{"t":9.99,"d":-16},
{"t":-9.95,"d":31},{"t":-9.85,"d":-22},{"t":-9.75,"d":8},{"t":-9.65,"d":-40},{"t":-9.55,"d":17},{"t":-9.45,"d":3},{"t":-9.35,"d":-13},{"t":-9.25,"d":44},{"t":-9.15,"d":-29},{"t":-9.05,"d":12},
{"t":-8.95,"d":-8},{"t":-8.85,"d":36},{"t":-8.75,"d":-33},{"t":-8.65,"d":20},{"t":-8.55,"d":5},{"t":-8.45,"d":-47},{"t":-8.35,"d":26},{"t":-8.25,"d":-15},{"t":-8.15,"d":9},{"t":-8.05,"d":39},
{"t":-7.95,"d":14},{"t":-7.85,"d":-27},{"t":-7.75,"d":42},{"t":-7.65,"d":-6},{"t":-7.55,"d":-38},{"t":-7.45,"d":23},{"t":-7.35,"d":1},{"t":-7.25,"d":33},{"t":-7.15,"d":-19},{"t":-7.05,"d":-52},
{"t":-6.95,"d":-35},{"t":-6.85,"d":9},{"t":-6.75,"d":18},{"t":-6.65,"d":-21},{"t":-6.55,"d":47},{"t":-6.45,"d":-11},{"t":-6.35,"d":28},{"t":-6.25,"d":-44},{"t":-6.15,"d":4},{"t":-6.05,"d":22},
{"t":-5.95,"d":25},{"t":-5.85,"d":-41},{"t":-5.75,"d":2},{"t":-5.65,"d":37},{"t":-5.55,"d":-16},{"t":-5.45,"d":13},{"t":-5.35,"d":-30},{"t":-5.25,"d":51},{"t":-5.15,"d":-7},{"t":-5.05,"d":-23},
{"t":-4.95,"d":-12},{"t":-4.85,"d":19},{"t":-4.75,"d":-48},{"t":-4.65,"d":30},{"t":-4.55,"d":6},{"t":-4.45,"d":-26},{"t":-4.35,"d":40},{"t":-4.25,"d":-3},{"t":-4.15,"d":15},{"t":-4.05,"d":-37},
{"t":-3.95,"d":38},{"t":-3.85,"d":-4},{"t":-3.75,"d":21},{"t":-3.65,"d":-32},{"t":-3.55,"d":10},{"t":-3.45,"d":-53},{"t":-3.35,"d":16},{"t":-3.25,"d":29},{"t":-3.15,"d":-18},{"t":-3.05,"d":3},
{"t":-2.95,"d":-25},{"t":-2.85,"d":18},{"t":-2.75,"d":41},{"t":-2.65,"d":-11},
{"t":2.65,"d":24},{"t":2.75,"d":-30},{"t":2.85,"d":12},{"t":2.95,"d":-45},
{"t":3.05,"d":-27},{"t":3.15,"d":34},{"t":3.25,"d":-9},{"t":3.35,"d":15},{"t":3.45,"d":-44},{"t":3.55,"d":26},{"t":3.65,"d":5},{"t":3.75,"d":-18},{"t":3.85,"d":48},{"t":3.95,"d":-3},
{"t":4.05,"d":11},{"t":4.15,"d":-36},{"t":4.25,"d":29},{"t":4.35,"d":-14},{"t":4.45,"d":3},{"t":4.55,"d":43},{"t":4.65,"d":-25},{"t":4.75,"d":19},{"t":4.85,"d":-52},{"t":4.95,"d":8},
{"t":5.05,"d":40},{"t":5.15,"d":-19},{"t":5.25,"d":-2},{"t":5.35,"d":31},{"t":5.45,"d":-46},{"t":5.55,"d":14},{"t":5.65,"d":23},{"t":5.75,"d":-33},{"t":5.85,"d":6},{"t":5.95,"d":-11},
{"t":6.05,"d":-30},{"t":6.15,"d":22},{"t":6.25,"d":47},{"t":6.35,"d":-8},{"t":6.45,"d":17},{"t":6.55,"d":-39},{"t":6.65,"d":1},{"t":6.75,"d":35},{"t":6.85,"d":-21},{"t":6.95,"d":12},
{"t":7.05,"d":16},{"t":7.15,"d":-49},{"t":7.25,"d":9},{"t":7.35,"d":27},{"t":7.45,"d":-15},{"t":7.55,"d":38},{"t":7.65,"d":-28},{"t":7.75,"d":4},{"t":7.85,"d":44},{"t":7.95,"d":-6},
{"t":8.05,"d":-41},{"t":8.15,"d":13},{"t":8.25,"d":-24},{"t":8.35,"d":36},{"t":8.45,"d":7},{"t":8.55,"d":-12},{"t":8.65,"d":52},{"t":8.75,"d":-33},{"t":8.85,"d":20},{"t":8.95,"d":2},
{"t":9.05,"d":26},{"t":9.15,"d":-8},{"t":9.25,"d":-37},{"t":9.35,"d":19},{"t":9.45,"d":45},{"t":9.55,"d":-21},{"t":9.65,"d":10},{"t":9.75,"d":-54},{"t":9.85,"d":31},{"t":9.95,"d":-1},
{"t":-0.95,"d":558},{"t":-0.85,"d":579},{"t":-0.75,"d":566},{"t":-0.65,"d":583},{"t":-0.45,"d":575},{"t":-0.35,"d":586},{"t":0.15,"d":581},{"t":0.35,"d":572},{"t":0.55,"d":584},{"t":0.75,"d":569},{"t":0.95,"d":576},{"t":1.1,"d":541},{"t":1.25,"d":556},{"t":1.45,"d":520},{"t":1.65,"d":501},{"t":-1.9,"d":452},{"t":-1.75,"d":480},{"t":-1.62,"d":493},{"t":-1.5,"d":525},{"t":-1.35,"d":517},{"t":1.85,"d":468},{"t":1.72,"d":495},{"t":1.56,"d":498}],
"mc":[{"t":-10,"d":0},{"t":-2.6,"d":0},{"t":-2.55,"d":3},{"t":-2.5,"d":10},{"t":-2.45,"d":30},{"t":-2.4,"d":60},{"t":-2.35,"d":102},{"t":-2.3,"d":150},{"t":-2.25,"d":205},{"t":-2.2,"d":260},{"t":-2.15,"d":305},{"t":-2.1,"d":345},{"t":-2.05,"d":378},{"t":-2,"d":405},{"t":-1.95,"d":424},{"t":-1.9,"d":440},{"t":-1.8,"d":465},{"t":-1.7,"d":485},{"t":-1.6,"d":500},{"t":-1.5,"d":512},{"t":-1.4,"d":524},{"t":-1.3,"d":535},{"t":-1.2,"d":545},{"t":-1.1,"d":553},{"t":-1,"d":561},{"t":-0.9,"d":568},{"t":-0.7,"d":580},{"t":-0.5,"d":589},{"t":-0.3,"d":595},{"t":0,"d":598},{"t":0.3,"d":595},{"t":0.5,"d":589},{"t":0.7,"d":580},{"t":0.9,"d":568},{"t":1,"d":561},{"t":1.1,"d":553},{"t":1.2,"d":545},{"t":1.3,"d":535},{"t":1.4,"d":524},{"t":1.5,"d":512},{"t":1.6,"d":500},{"t":1.7,"d":485},{"t":1.8,"d":465},{"t":1.9,"d":440},{"t":1.95,"d":424},{"t":2,"d":405},{"t":2.05,"d":378},{"t":2.1,"d":345},{"t":2.15,"d":305},{"t":2.2,"d":260},{"t":2.25,"d":205},{"t":2.3,"d":150},{"t":2.35,"d":102},{"t":2.4,"d":60},{"t":2.45,"d":30},{"t":2.5,"d":10},{"t":2.55,"d":3},{"t":2.6,"d":0},{"t":10,"d":0}],
"bc":[{"t":-9.65,"d":7.7,"e":10},{"t":-8.67,"d":1.3,"e":10},{"t":-7.68,"d":1.3,"e":10},{"t":-6.7,"d":-8.3,"e":10},{"t":-5.71,"d":1.3,"e":10},{"t":-4.73,"d":-3.5,"e":10},{"t":-3.74,"d":7.7,"e":10},{"t":-2.59,"d":12.5,"e":12},{"t":-1.6,"d":507,"e":12},{"t":-0.6,"d":585,"e":10},{"t":0.39,"d":598,"e":10},{"t":1.37,"d":526,"e":12},{"t":2.4,"d":35,"e":25},{"t":3.39,"d":4.5,"e":10},{"t":4.41,"d":0,"e":10},{"t":5.44,"d":1.3,"e":10},{"t":6.45,"d":9.3,"e":10},{"t":7.46,"d":-6.7,"e":10},{"t":8.44,"d":-9.9,"e":10},{"t":9.45,"d":4.5,"e":10}]
},
"vconcat":[
{
"width":1381,"height":736,
"resolve":{"axis":{"x":"independent","y":"independent"}},
"layer":[
{"data":{"name":"pa"},"mark":{"type":"circle","size":46,"color":"#000","opacity":1,"clip":true},
"encoding":{"x":{"field":"t","type":"quantitative","scale":{"domain":[-10,10],"nice":false,"zero":false},"axis":{"orient":"bottom","values":[-5,0,5],"labels":false,"title":null}},
"y":{"field":"d","type":"quantitative","scale":{"domain":[-70,90],"reverse":true,"nice":false,"zero":false},"axis":{"orient":"left","values":[-60,-40,-20,0,20,40,60,80],"title":"Transit Depth (ppm)","titleX":-127,"titleY":368,"titleAngle":-90,"titleAlign":"center","titleBaseline":"middle"}}}},
{"data":{"name":"ma"},"mark":{"type":"line","color":"#ff0000","strokeWidth":3.5,"interpolate":"monotone","clip":true},
"encoding":{"x":{"field":"t","type":"quantitative","axis":{"orient":"top","values":[-5,0,5],"labels":false,"title":null}},
"y":{"field":"d","type":"quantitative","axis":{"orient":"right","values":[-60,-40,-20,0,20,40,60,80],"labels":false,"title":null}}}},
{"data":{"name":"ba"},"mark":{"type":"errorbar","color":"#1a1aff","thickness":1.6,"ticks":{"size":20,"thickness":1.8}},
"encoding":{"x":{"field":"t","type":"quantitative","axis":null},"y":{"field":"d","type":"quantitative","axis":null},"yError":{"field":"e"}}},
{"data":{"name":"ba"},"mark":{"type":"point","shape":"circle","filled":true,"fill":"#0000ff","stroke":"#000","strokeWidth":1.2,"size":240,"opacity":1},
"encoding":{"x":{"field":"t","type":"quantitative","axis":null},"y":{"field":"d","type":"quantitative","axis":null}}},
{"data":{"values":[{}]},"mark":{"type":"text","align":"right","baseline":"alphabetic","font":"Lato","fontSize":62.5,"color":"#0b2e3c","text":"Kepler 37b : (sub Mercury) :"},
"encoding":{"x":{"datum":1.85,"type":"quantitative","axis":null},"y":{"datum":78.4,"type":"quantitative","axis":null}}},
{"data":{"values":[{}]},"mark":{"type":"text","align":"left","baseline":"alphabetic","font":"Lato","fontSize":62.5,"color":"#ff2200","text":"37 ppm"},
"encoding":{"x":{"datum":2.12,"type":"quantitative","axis":null},"y":{"datum":78.4,"type":"quantitative","axis":null}}},
{"data":{"values":[{}]},"mark":{"type":"text","align":"center","baseline":"alphabetic","font":"DejaVu Sans","fontSize":36,"color":"#000","text":"(a)"},
"encoding":{"x":{"datum":6.39,"type":"quantitative","axis":null},"y":{"datum":79,"type":"quantitative","axis":null}}}
]
},
{
"width":1381,"height":734,
"resolve":{"axis":{"x":"independent","y":"independent"}},
"layer":[
{"data":{"name":"pb"},"mark":{"type":"circle","size":46,"color":"#000","opacity":1,"clip":true},
"encoding":{"x":{"field":"t","type":"quantitative","scale":{"domain":[-10,10],"nice":false,"zero":false},"axis":{"orient":"bottom","values":[-5,0,5],"labels":false,"title":null}},
"y":{"field":"d","type":"quantitative","scale":{"domain":[-99,169.5],"reverse":true,"nice":false,"zero":false},"axis":{"orient":"left","values":[-50,0,50,100,150],"title":"Transit Depth (ppm)","titleX":-127,"titleY":367,"titleAngle":-90,"titleAlign":"center","titleBaseline":"middle"}}}},
{"data":{"name":"mb"},"mark":{"type":"line","color":"#ff0000","strokeWidth":3.5,"interpolate":"monotone","clip":true},
"encoding":{"x":{"field":"t","type":"quantitative","axis":{"orient":"top","values":[-5,0,5],"labels":false,"title":null}},
"y":{"field":"d","type":"quantitative","axis":{"orient":"right","values":[-50,0,50,100,150],"labels":false,"title":null}}}},
{"data":{"name":"bb"},"mark":{"type":"errorbar","color":"#1a1aff","thickness":1.6,"ticks":{"size":20,"thickness":1.8}},
"encoding":{"x":{"field":"t","type":"quantitative","axis":null},"y":{"field":"d","type":"quantitative","axis":null},"yError":{"field":"e"}}},
{"data":{"name":"bb"},"mark":{"type":"point","shape":"circle","filled":true,"fill":"#0000ff","stroke":"#000","strokeWidth":1.2,"size":240,"opacity":1},
"encoding":{"x":{"field":"t","type":"quantitative","axis":null},"y":{"field":"d","type":"quantitative","axis":null}}},
{"data":{"values":[{}]},"mark":{"type":"text","align":"right","baseline":"alphabetic","font":"Lato","fontSize":62.5,"color":"#0b2e3c","text":"Kepler 37c : (sub Earth) :"},
"encoding":{"x":{"datum":0.79,"type":"quantitative","axis":null},"y":{"datum":148.5,"type":"quantitative","axis":null}}},
{"data":{"values":[{}]},"mark":{"type":"text","align":"left","baseline":"alphabetic","font":"Lato","fontSize":62.5,"color":"#ff2200","text":"81.1 ppm"},
"encoding":{"x":{"datum":1.14,"type":"quantitative","axis":null},"y":{"datum":148.5,"type":"quantitative","axis":null}}},
{"data":{"values":[{}]},"mark":{"type":"text","align":"center","baseline":"alphabetic","font":"DejaVu Sans","fontSize":36,"color":"#000","text":"(b)"},
"encoding":{"x":{"datum":6.38,"type":"quantitative","axis":null},"y":{"datum":123,"type":"quantitative","axis":null}}}
]
},
{
"width":1381,"height":738,
"resolve":{"axis":{"x":"independent","y":"independent"}},
"layer":[
{"data":{"name":"pc"},"mark":{"type":"circle","size":46,"color":"#000","opacity":1,"clip":true},
"encoding":{"x":{"field":"t","type":"quantitative","scale":{"domain":[-10,10],"nice":false,"zero":false},"axis":{"orient":"bottom","values":[-10,-5,0,5,10],"labels":true,"labelFontSize":40,"labelPadding":26,"title":"Time from mid-transit (hours)","titleX":690.5,"titleY":86,"titleAlign":"center","titleBaseline":"alphabetic"}},
"y":{"field":"d","type":"quantitative","scale":{"domain":[-100,700],"reverse":true,"nice":false,"zero":false},"axis":{"orient":"left","values":[0,100,200,300,400,500,600,700],"title":"Transit Depth (ppm)","titleX":-127,"titleY":369,"titleAngle":-90,"titleAlign":"center","titleBaseline":"middle"}}}},
{"data":{"name":"mc"},"mark":{"type":"line","color":"#ff0000","strokeWidth":3.5,"interpolate":"monotone","clip":true},
"encoding":{"x":{"field":"t","type":"quantitative","axis":{"orient":"top","values":[-5,0,5],"labels":false,"title":null}},
"y":{"field":"d","type":"quantitative","axis":{"orient":"right","values":[0,100,200,300,400,500,600,700],"labels":false,"title":null}}}},
{"data":{"name":"bc"},"mark":{"type":"errorbar","color":"#1a1aff","thickness":1.6,"ticks":{"size":20,"thickness":1.8}},
"encoding":{"x":{"field":"t","type":"quantitative","axis":null},"y":{"field":"d","type":"quantitative","axis":null},"yError":{"field":"e"}}},
{"data":{"name":"bc"},"mark":{"type":"point","shape":"circle","filled":true,"fill":"#0000ff","stroke":"#000","strokeWidth":1.2,"size":240,"opacity":1},
"encoding":{"x":{"field":"t","type":"quantitative","axis":null},"y":{"field":"d","type":"quantitative","axis":null}}},
{"data":{"values":[{}]},"mark":{"type":"text","align":"center","baseline":"alphabetic","font":"DejaVu Sans","fontSize":36,"color":"#000","text":"(c)"},
"encoding":{"x":{"datum":6.38,"type":"quantitative","axis":null},"y":{"datum":600,"type":"quantitative","axis":null}}},
{"data":{"values":[{}]},"mark":{"type":"rect","color":"#ffffff","opacity":1},
"encoding":{"x":{"datum":-8.99,"type":"quantitative","axis":null},"x2":{"datum":6.75},"y":{"datum":588,"type":"quantitative","axis":null},"y2":{"datum":700}}},
{"data":{"values":[{}]},"mark":{"type":"text","align":"right","baseline":"alphabetic","font":"Lato","fontSize":62.5,"color":"#0b2e3c","text":"Kepler 37d : (super Earth) :"},
"encoding":{"x":{"datum":1.93,"type":"quantitative","axis":null},"y":{"datum":663.5,"type":"quantitative","axis":null}}},
{"data":{"values":[{}]},"mark":{"type":"text","align":"left","baseline":"alphabetic","font":"Lato","fontSize":62.5,"color":"#ff2200","text":"574.9 ppm"},
"encoding":{"x":{"datum":2.19,"type":"quantitative","axis":null},"y":{"datum":663.5,"type":"quantitative","axis":null}}}
]
}
]
}
